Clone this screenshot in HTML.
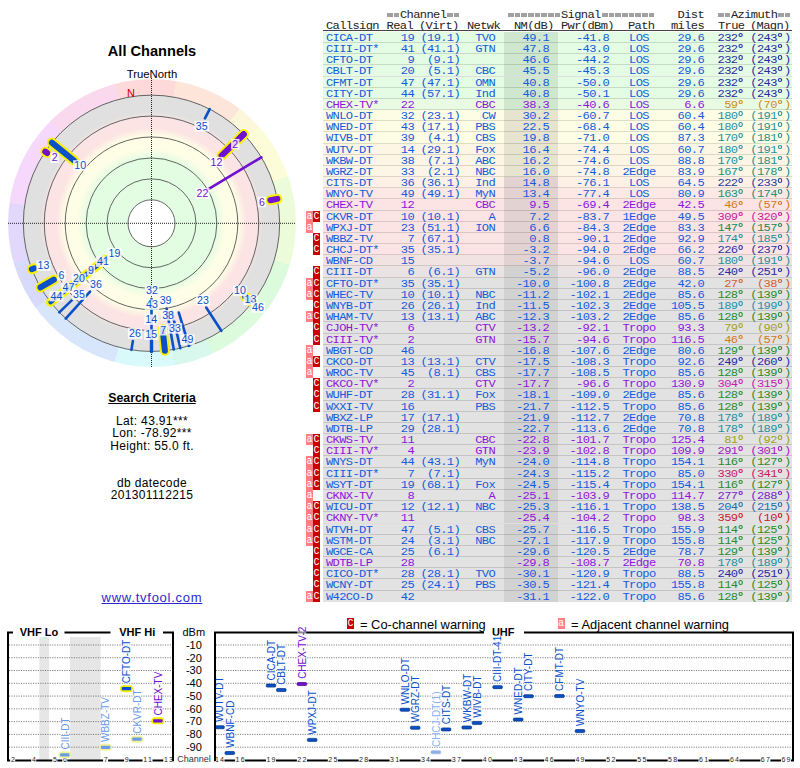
<!DOCTYPE html>
<html><head><meta charset="utf-8"><style>
html,body{margin:0;padding:0;background:#fff}
body{width:800px;height:768px;position:relative;overflow:hidden}
.t{position:absolute;white-space:pre;font:11px/12px "Liberation Mono",monospace;letter-spacing:-0.582px;transform:scaleX(1.100)}
.s{position:absolute;white-space:pre;font-family:"Liberation Sans",sans-serif;color:#000}
.bg{position:absolute;left:323px;width:469px}
.sep{position:absolute;left:323px;width:469px;height:1px;background:rgba(0,0,0,0.13)}
.dg{display:inline-block;width:6.6px;height:1px;position:relative}
.dg::after{content:'';position:absolute;left:0.6px;top:-6.9px;width:2.6px;height:2.4px;border:0.95px solid currentColor;border-radius:50%}
.fl{position:absolute;width:7px;color:#fff;font:10px/11px "Liberation Mono",monospace;text-align:center}
.fc{background:#c80000}
.fa{background:#ff8080}
.pt{font:bold 11px 'Liberation Sans',sans-serif}
.ax{font:11px 'Liberation Sans',sans-serif}
.cl{font:7px 'Liberation Sans',sans-serif;letter-spacing:1.3px;fill:#222}
.ch{font:9px 'Liberation Sans',sans-serif;fill:#333}
.ml{font:10px 'Liberation Sans',sans-serif}
.lab{font:10.6px "Liberation Sans",sans-serif}
</style></head><body>
<div style="position:absolute;left:7.5px;top:79.3px;width:288px;height:288px;border-radius:50%;background:conic-gradient(#fdd9d9 0deg 9.5deg,#fde5da 9.5deg 37.5deg,#fcf6da 37.5deg 48deg,#fdfcd8 48deg 71deg,#ecfcda 71deg 107deg,#dcfadc 107deg 155deg,#d8f8ee 155deg 171deg,#d8fafa 171deg 195deg,#d8e6fc 195deg 234deg,#d8dafc 234deg 254deg,#e2d8fc 254deg 278deg,#f6d8fc 278deg 315deg,#fad8ee 315deg 345deg,#fdd9d9 345deg 360deg)"></div>
<div style="position:absolute;left:23.3px;top:95.1px;width:256.4px;height:256.4px;border-radius:50%;background:radial-gradient(circle closest-side, #fff 0px, #fff 23.5px, #e2fde2 23.5px, #e2fde2 65px, #fefde6 74px, #fefde6 87px, #fde4e4 95px, #fde4e4 105px, #e0e0e0 111px, #e0e0e0 128.2px, transparent 128.2px)"></div>
<svg style="position:absolute;left:0;top:0" width="300" height="380" viewBox="0 0 300 380">
<circle cx="151.50" cy="223.30" r="23.50" fill="none" stroke="#555" stroke-width="0.9"/>
<circle cx="151.50" cy="223.30" r="44.43" fill="none" stroke="#555" stroke-width="0.9"/>
<circle cx="151.50" cy="223.30" r="65.36" fill="none" stroke="#555" stroke-width="0.9"/>
<circle cx="151.50" cy="223.30" r="86.29" fill="none" stroke="#555" stroke-width="0.9"/>
<circle cx="151.50" cy="223.30" r="107.22" fill="none" stroke="#555" stroke-width="0.9"/>
<circle cx="151.50" cy="223.30" r="128.15" fill="none" stroke="#555" stroke-width="0.9"/>
<line x1="8" y1="223.3" x2="296" y2="223.3" stroke="#222" stroke-width="1" stroke-dasharray="1 1"/>
<line x1="151.5" y1="78" x2="151.5" y2="367" stroke="#222" stroke-width="1" stroke-dasharray="1 1"/>
<line x1="221.56" y1="155.64" x2="243.72" y2="134.24" stroke="#f8f000" stroke-width="10" stroke-linecap="round"/>
<line x1="73.95" y1="160.50" x2="51.87" y2="142.62" stroke="#f8f000" stroke-width="10" stroke-linecap="round"/>
<line x1="162.63" y1="329.18" x2="164.90" y2="350.80" stroke="#f8f000" stroke-width="10" stroke-linecap="round"/>
<line x1="53.88" y1="279.66" x2="40.48" y2="287.40" stroke="#f8f000" stroke-width="10" stroke-linecap="round"/>
<line x1="245.25" y1="296.55" x2="252.52" y2="302.23" stroke="#f8f000" stroke-width="10" stroke-linecap="round"/>
<line x1="270.34" y1="200.20" x2="277.34" y2="198.84" stroke="#f8f000" stroke-width="10" stroke-linecap="round"/>
<line x1="240.46" y1="137.39" x2="243.72" y2="134.24" stroke="#f8f000" stroke-width="10" stroke-linecap="round"/>
<line x1="34.29" y1="268.29" x2="31.81" y2="269.24" stroke="#f8f000" stroke-width="10" stroke-linecap="round"/>
<line x1="47.25" y1="152.98" x2="45.22" y2="151.61" stroke="#f8f000" stroke-width="10" stroke-linecap="round"/>
<line x1="105.23" y1="259.45" x2="50.48" y2="302.23" stroke="#f8f000" stroke-width="9" stroke-linecap="round"/>
<line x1="107.28" y1="257.85" x2="50.48" y2="302.23" stroke="#0a50c8" stroke-width="4.2" stroke-linecap="round"/>
<line x1="209.25" y1="188.60" x2="261.39" y2="157.27" stroke="#7010d0" stroke-width="2.6" stroke-linecap="round"/>
<line x1="151.50" y1="299.12" x2="151.50" y2="351.50" stroke="#0a50c8" stroke-width="2.6" stroke-linecap="round"/>
<line x1="151.50" y1="334.46" x2="151.50" y2="351.50" stroke="#0a50c8" stroke-width="3.4" stroke-linecap="round"/>
<line x1="166.55" y1="308.64" x2="173.76" y2="349.55" stroke="#0a50c8" stroke-width="2.6" stroke-linecap="round"/>
<line x1="171.89" y1="311.60" x2="180.34" y2="348.21" stroke="#0a50c8" stroke-width="2.6" stroke-linecap="round"/>
<line x1="90.03" y1="291.57" x2="65.72" y2="318.57" stroke="#0a50c8" stroke-width="2.6" stroke-linecap="round"/>
<line x1="178.79" y1="312.55" x2="188.98" y2="345.90" stroke="#0a50c8" stroke-width="2.6" stroke-linecap="round"/>
<line x1="206.19" y1="307.52" x2="221.32" y2="330.82" stroke="#0a50c8" stroke-width="2.6" stroke-linecap="round"/>
<line x1="71.92" y1="300.15" x2="59.28" y2="312.36" stroke="#0a50c8" stroke-width="2.6" stroke-linecap="round"/>
<line x1="204.95" y1="118.41" x2="209.70" y2="109.07" stroke="#0a50c8" stroke-width="2.6" stroke-linecap="round"/>
<line x1="132.84" y1="341.12" x2="131.45" y2="349.92" stroke="#0a50c8" stroke-width="2.6" stroke-linecap="round"/>
<line x1="248.50" y1="301.85" x2="251.13" y2="303.98" stroke="#0a50c8" stroke-width="2.6" stroke-linecap="round"/>
<line x1="250.59" y1="300.72" x2="252.52" y2="302.23" stroke="#0a50c8" stroke-width="2.6" stroke-linecap="round"/>
<line x1="221.56" y1="155.64" x2="243.72" y2="134.24" stroke="#7010d0" stroke-width="6" stroke-linecap="round"/>
<line x1="73.95" y1="160.50" x2="51.87" y2="142.62" stroke="#0a50c8" stroke-width="6" stroke-linecap="round"/>
<line x1="162.63" y1="329.18" x2="164.90" y2="350.80" stroke="#0a50c8" stroke-width="6" stroke-linecap="round"/>
<line x1="53.88" y1="279.66" x2="40.48" y2="287.40" stroke="#0a50c8" stroke-width="6" stroke-linecap="round"/>
<line x1="245.25" y1="296.55" x2="252.52" y2="302.23" stroke="#0a50c8" stroke-width="6" stroke-linecap="round"/>
<line x1="270.34" y1="200.20" x2="277.34" y2="198.84" stroke="#7010d0" stroke-width="6" stroke-linecap="round"/>
<line x1="240.46" y1="137.39" x2="243.72" y2="134.24" stroke="#7010d0" stroke-width="6" stroke-linecap="round"/>
<line x1="34.29" y1="268.29" x2="31.81" y2="269.24" stroke="#0a50c8" stroke-width="6" stroke-linecap="round"/>
<line x1="47.25" y1="152.98" x2="45.22" y2="151.61" stroke="#7010d0" stroke-width="6" stroke-linecap="round"/>
<rect x="194.55" y="120.90" width="14.30" height="10.5" fill="#fff" fill-opacity="0.82"/>
<text x="201.70" y="129.70" text-anchor="middle" class="lab" fill="#0a50c8">35</text>
<rect x="231.10" y="138.90" width="8.40" height="10.5" fill="#fff" fill-opacity="0.82"/>
<text x="235.30" y="147.70" text-anchor="middle" class="lab" fill="#7010d0">2</text>
<rect x="209.35" y="156.90" width="14.30" height="10.5" fill="#fff" fill-opacity="0.82"/>
<text x="216.50" y="165.70" text-anchor="middle" class="lab" fill="#7010d0">12</text>
<rect x="195.35" y="188.15" width="14.30" height="10.5" fill="#fff" fill-opacity="0.82"/>
<text x="202.50" y="196.95" text-anchor="middle" class="lab" fill="#7010d0">22</text>
<rect x="257.70" y="196.70" width="8.40" height="10.5" fill="#fff" fill-opacity="0.82"/>
<text x="261.90" y="205.50" text-anchor="middle" class="lab" fill="#7010d0">6</text>
<rect x="50.40" y="152.50" width="8.40" height="10.5" fill="#fff" fill-opacity="0.82"/>
<text x="54.60" y="161.30" text-anchor="middle" class="lab" fill="#7010d0">2</text>
<rect x="73.05" y="160.20" width="14.30" height="10.5" fill="#fff" fill-opacity="0.82"/>
<text x="80.20" y="169.00" text-anchor="middle" class="lab" fill="#0a50c8">10</text>
<rect x="36.35" y="260.40" width="14.30" height="10.5" fill="#fff" fill-opacity="0.82"/>
<text x="43.50" y="269.20" text-anchor="middle" class="lab" fill="#0a50c8">13</text>
<rect x="57.30" y="269.90" width="8.40" height="10.5" fill="#fff" fill-opacity="0.82"/>
<text x="61.50" y="278.70" text-anchor="middle" class="lab" fill="#0a50c8">6</text>
<rect x="107.35" y="247.90" width="14.30" height="10.5" fill="#fff" fill-opacity="0.82"/>
<text x="114.50" y="256.70" text-anchor="middle" class="lab" fill="#0a50c8">19</text>
<rect x="95.85" y="256.40" width="14.30" height="10.5" fill="#fff" fill-opacity="0.82"/>
<text x="103.00" y="265.20" text-anchor="middle" class="lab" fill="#0a50c8">41</text>
<rect x="86.80" y="264.90" width="8.40" height="10.5" fill="#fff" fill-opacity="0.82"/>
<text x="91.00" y="273.70" text-anchor="middle" class="lab" fill="#0a50c8">9</text>
<rect x="71.85" y="273.40" width="14.30" height="10.5" fill="#fff" fill-opacity="0.82"/>
<text x="79.00" y="282.20" text-anchor="middle" class="lab" fill="#0a50c8">20</text>
<rect x="61.35" y="282.40" width="14.30" height="10.5" fill="#fff" fill-opacity="0.82"/>
<text x="68.50" y="291.20" text-anchor="middle" class="lab" fill="#0a50c8">47</text>
<rect x="49.35" y="290.90" width="14.30" height="10.5" fill="#fff" fill-opacity="0.82"/>
<text x="56.50" y="299.70" text-anchor="middle" class="lab" fill="#0a50c8">44</text>
<rect x="88.85" y="279.40" width="14.30" height="10.5" fill="#fff" fill-opacity="0.82"/>
<text x="96.00" y="288.20" text-anchor="middle" class="lab" fill="#0a50c8">36</text>
<rect x="71.85" y="289.40" width="14.30" height="10.5" fill="#fff" fill-opacity="0.82"/>
<text x="79.00" y="298.20" text-anchor="middle" class="lab" fill="#0a50c8">35</text>
<rect x="144.75" y="285.65" width="14.30" height="10.5" fill="#fff" fill-opacity="0.82"/>
<text x="151.90" y="294.45" text-anchor="middle" class="lab" fill="#0a50c8">32</text>
<rect x="144.75" y="299.40" width="14.30" height="10.5" fill="#fff" fill-opacity="0.82"/>
<text x="151.90" y="308.20" text-anchor="middle" class="lab" fill="#0a50c8">43</text>
<rect x="144.10" y="314.40" width="14.30" height="10.5" fill="#fff" fill-opacity="0.82"/>
<text x="151.25" y="323.20" text-anchor="middle" class="lab" fill="#0a50c8">14</text>
<rect x="144.10" y="329.40" width="14.30" height="10.5" fill="#fff" fill-opacity="0.82"/>
<text x="151.25" y="338.20" text-anchor="middle" class="lab" fill="#0a50c8">15</text>
<rect x="127.85" y="328.15" width="14.30" height="10.5" fill="#fff" fill-opacity="0.82"/>
<text x="135.00" y="336.95" text-anchor="middle" class="lab" fill="#0a50c8">26</text>
<rect x="158.45" y="295.65" width="14.30" height="10.5" fill="#fff" fill-opacity="0.82"/>
<text x="165.60" y="304.45" text-anchor="middle" class="lab" fill="#0a50c8">39</text>
<rect x="160.95" y="310.00" width="14.30" height="10.5" fill="#fff" fill-opacity="0.82"/>
<text x="168.10" y="318.80" text-anchor="middle" class="lab" fill="#0a50c8">38</text>
<rect x="158.90" y="325.00" width="8.40" height="10.5" fill="#fff" fill-opacity="0.82"/>
<text x="163.10" y="333.80" text-anchor="middle" class="lab" fill="#0a50c8">7</text>
<rect x="167.85" y="323.15" width="14.30" height="10.5" fill="#fff" fill-opacity="0.82"/>
<text x="175.00" y="331.95" text-anchor="middle" class="lab" fill="#0a50c8">33</text>
<rect x="180.35" y="334.40" width="14.30" height="10.5" fill="#fff" fill-opacity="0.82"/>
<text x="187.50" y="343.20" text-anchor="middle" class="lab" fill="#0a50c8">49</text>
<rect x="195.85" y="295.00" width="14.30" height="10.5" fill="#fff" fill-opacity="0.82"/>
<text x="203.00" y="303.80" text-anchor="middle" class="lab" fill="#0a50c8">23</text>
<rect x="232.85" y="285.65" width="14.30" height="10.5" fill="#fff" fill-opacity="0.82"/>
<text x="240.00" y="294.45" text-anchor="middle" class="lab" fill="#0a50c8">10</text>
<rect x="243.35" y="294.65" width="14.30" height="10.5" fill="#fff" fill-opacity="0.82"/>
<text x="250.50" y="303.45" text-anchor="middle" class="lab" fill="#0a50c8">13</text>
<rect x="250.85" y="302.15" width="14.30" height="10.5" fill="#fff" fill-opacity="0.82"/>
<text x="258.00" y="310.95" text-anchor="middle" class="lab" fill="#0a50c8">46</text>
<text x="131" y="96.5" text-anchor="middle" style="font:11px 'Liberation Sans',sans-serif" fill="#cc0000">N</text>
</svg>
<div class="s" style="left:0;width:304px;top:42.5px;text-align:center;font-weight:bold;font-size:14.6px">All Channels</div>
<div class="s" style="left:0;width:304px;top:68px;text-align:center;font-size:11.3px">TrueNorth</div>
<div class="s" style="left:0;width:304px;top:390.5px;text-align:center;font-weight:bold;font-size:12.3px;text-decoration:underline">Search Criteria</div>
<div class="s" style="left:0;width:304px;top:414.5px;text-align:center;font-size:12px;line-height:12.6px;letter-spacing:0.35px">Lat: 43.91***<br>Lon: -78.92***<br>Height: 55.0 ft.</div>
<div class="s" style="left:0;width:304px;top:476.5px;text-align:center;font-size:12px;line-height:12.4px;letter-spacing:0.35px">db datecode<br>201301112215</div>
<div class="s" style="left:0;width:304px;top:590px;text-align:center;font-size:13px;letter-spacing:0.75px;color:#2a2acc;text-decoration:underline">www.tvfool.com</div>
<div style="position:absolute;left:386.90px;top:13px;width:12.32px;height:3.8px;background:repeating-linear-gradient(90deg,#a0a0a0 0 5.6px,transparent 5.6px 6.66px)"></div>
<div class="t" style="left:399.52px;transform-origin:0 0;top:8.60px;color:#222">Channel</div>
<div style="position:absolute;left:446.84px;top:13px;width:12.32px;height:3.8px;background:repeating-linear-gradient(90deg,#a0a0a0 0 5.6px,transparent 5.6px 6.66px)"></div>
<div style="position:absolute;left:508.40px;top:13px;width:52.28px;height:3.8px;background:repeating-linear-gradient(90deg,#a0a0a0 0 5.6px,transparent 5.6px 6.66px)"></div>
<div class="t" style="left:561.18px;transform-origin:0 0;top:8.60px;color:#222">Signal</div>
<div style="position:absolute;left:601.64px;top:13px;width:52.28px;height:3.8px;background:repeating-linear-gradient(90deg,#a0a0a0 0 5.6px,transparent 5.6px 6.66px)"></div>
<div class="t" style="right:96.12px;transform-origin:100% 0;top:8.60px;color:#222">Dist</div>
<div style="position:absolute;left:717.80px;top:13px;width:12.32px;height:3.8px;background:repeating-linear-gradient(90deg,#a0a0a0 0 5.6px,transparent 5.6px 6.66px)"></div>
<div class="t" style="left:730.62px;transform-origin:0 0;top:8.60px;color:#222">Azimuth</div>
<div style="position:absolute;left:777.74px;top:13px;width:12.32px;height:3.8px;background:repeating-linear-gradient(90deg,#a0a0a0 0 5.6px,transparent 5.6px 6.66px)"></div>
<div class="t" style="left:325.80px;transform-origin:0 0;top:19.60px;color:#222">Callsign</div>
<div class="t" style="right:386.62px;transform-origin:100% 0;top:19.60px;color:#222">Real</div>
<div class="t" style="left:419.00px;transform-origin:0 0;top:19.60px;color:#222">(Virt)</div>
<div class="t" style="left:467.30px;transform-origin:0 0;top:19.60px;color:#222">Netwk</div>
<div class="t" style="left:514.20px;transform-origin:0 0;top:19.60px;color:#222">NM(dB)</div>
<div class="t" style="left:561.20px;transform-origin:0 0;top:19.60px;color:#222">Pwr(dBm)</div>
<div class="t" style="left:628.20px;transform-origin:0 0;top:19.60px;color:#222">Path</div>
<div class="t" style="right:96.12px;transform-origin:100% 0;top:19.60px;color:#222">miles</div>
<div class="t" style="left:717.80px;transform-origin:0 0;top:19.60px;color:#222">True</div>
<div class="t" style="left:749.50px;transform-origin:0 0;top:19.60px;color:#222">(Magn)</div>
<div style="position:absolute;left:323px;top:30px;width:469px;height:1px;background:#444"></div>
<div class="bg" style="top:31.80px;height:11.18px;background:#e3fce3"></div>
<div class="bg" style="left:504px;width:54px;top:31.80px;height:11.18px;background:#cfe6cf"></div>
<div class="sep" style="top:41.98px"></div>
<div class="t" style="left:325.80px;transform-origin:0 0;top:31.80px;color:#145adc">CICA-DT</div>
<div class="t" style="right:385.92px;transform-origin:100% 0;top:31.80px;color:#145adc">19</div>
<div class="t" style="right:339.42px;transform-origin:100% 0;top:31.80px;color:#145adc">(19.1)</div>
<div class="t" style="right:305.22px;transform-origin:100% 0;top:31.80px;color:#145adc">TVO</div>
<div class="t" style="right:250.92px;transform-origin:100% 0;top:31.80px;color:#145adc">49.1</div>
<div class="t" style="right:190.72px;transform-origin:100% 0;top:31.80px;color:#145adc">-41.8</div>
<div class="t" style="left:639.21px;width:0;text-align:center;display:flex;justify-content:center;transform-origin:0 0;top:31.80px;color:#145adc">LOS</div>
<div class="t" style="right:96.32px;transform-origin:100% 0;top:31.80px;color:#145adc">29.6</div>
<div class="t" style="right:55.42px;transform-origin:100% 0;top:31.80px;color:#2a2aa0">232<span class="dg"></span></div>
<div class="t" style="right:9.12px;transform-origin:100% 0;top:31.80px;color:#2a2aa0">(243<span class="dg"></span>)</div>
<div class="bg" style="top:42.98px;height:11.18px;background:#e3fce3"></div>
<div class="bg" style="left:504px;width:54px;top:42.98px;height:11.18px;background:#cfe6cf"></div>
<div class="sep" style="top:53.15px"></div>
<div class="t" style="left:325.80px;transform-origin:0 0;top:42.97px;color:#145adc">CIII-DT*</div>
<div class="t" style="right:385.92px;transform-origin:100% 0;top:42.97px;color:#145adc">41</div>
<div class="t" style="right:339.42px;transform-origin:100% 0;top:42.97px;color:#145adc">(41.1)</div>
<div class="t" style="right:305.22px;transform-origin:100% 0;top:42.97px;color:#145adc">GTN</div>
<div class="t" style="right:250.92px;transform-origin:100% 0;top:42.97px;color:#145adc">47.8</div>
<div class="t" style="right:190.72px;transform-origin:100% 0;top:42.97px;color:#145adc">-43.0</div>
<div class="t" style="left:639.21px;width:0;text-align:center;display:flex;justify-content:center;transform-origin:0 0;top:42.97px;color:#145adc">LOS</div>
<div class="t" style="right:96.32px;transform-origin:100% 0;top:42.97px;color:#145adc">29.6</div>
<div class="t" style="right:55.42px;transform-origin:100% 0;top:42.97px;color:#2a2aa0">232<span class="dg"></span></div>
<div class="t" style="right:9.12px;transform-origin:100% 0;top:42.97px;color:#2a2aa0">(243<span class="dg"></span>)</div>
<div class="bg" style="top:54.15px;height:11.17px;background:#e3fce3"></div>
<div class="bg" style="left:504px;width:54px;top:54.15px;height:11.17px;background:#cfe6cf"></div>
<div class="sep" style="top:64.33px"></div>
<div class="t" style="left:325.80px;transform-origin:0 0;top:54.15px;color:#145adc">CFTO-DT</div>
<div class="t" style="right:385.92px;transform-origin:100% 0;top:54.15px;color:#145adc">9</div>
<div class="t" style="right:339.42px;transform-origin:100% 0;top:54.15px;color:#145adc">(9.1)</div>
<div class="t" style="right:250.92px;transform-origin:100% 0;top:54.15px;color:#145adc">46.6</div>
<div class="t" style="right:190.72px;transform-origin:100% 0;top:54.15px;color:#145adc">-44.2</div>
<div class="t" style="left:639.21px;width:0;text-align:center;display:flex;justify-content:center;transform-origin:0 0;top:54.15px;color:#145adc">LOS</div>
<div class="t" style="right:96.32px;transform-origin:100% 0;top:54.15px;color:#145adc">29.6</div>
<div class="t" style="right:55.42px;transform-origin:100% 0;top:54.15px;color:#2a2aa0">232<span class="dg"></span></div>
<div class="t" style="right:9.12px;transform-origin:100% 0;top:54.15px;color:#2a2aa0">(243<span class="dg"></span>)</div>
<div class="bg" style="top:65.33px;height:11.17px;background:#e3fce3"></div>
<div class="bg" style="left:504px;width:54px;top:65.33px;height:11.17px;background:#cfe6cf"></div>
<div class="sep" style="top:75.50px"></div>
<div class="t" style="left:325.80px;transform-origin:0 0;top:65.33px;color:#145adc">CBLT-DT</div>
<div class="t" style="right:385.92px;transform-origin:100% 0;top:65.33px;color:#145adc">20</div>
<div class="t" style="right:339.42px;transform-origin:100% 0;top:65.33px;color:#145adc">(5.1)</div>
<div class="t" style="right:305.22px;transform-origin:100% 0;top:65.33px;color:#145adc">CBC</div>
<div class="t" style="right:250.92px;transform-origin:100% 0;top:65.33px;color:#145adc">45.5</div>
<div class="t" style="right:190.72px;transform-origin:100% 0;top:65.33px;color:#145adc">-45.3</div>
<div class="t" style="left:639.21px;width:0;text-align:center;display:flex;justify-content:center;transform-origin:0 0;top:65.33px;color:#145adc">LOS</div>
<div class="t" style="right:96.32px;transform-origin:100% 0;top:65.33px;color:#145adc">29.6</div>
<div class="t" style="right:55.42px;transform-origin:100% 0;top:65.33px;color:#2a2aa0">232<span class="dg"></span></div>
<div class="t" style="right:9.12px;transform-origin:100% 0;top:65.33px;color:#2a2aa0">(243<span class="dg"></span>)</div>
<div class="bg" style="top:76.50px;height:11.17px;background:#e3fce3"></div>
<div class="bg" style="left:504px;width:54px;top:76.50px;height:11.17px;background:#cfe6cf"></div>
<div class="sep" style="top:86.67px"></div>
<div class="t" style="left:325.80px;transform-origin:0 0;top:76.50px;color:#145adc">CFMT-DT</div>
<div class="t" style="right:385.92px;transform-origin:100% 0;top:76.50px;color:#145adc">47</div>
<div class="t" style="right:339.42px;transform-origin:100% 0;top:76.50px;color:#145adc">(47.1)</div>
<div class="t" style="right:305.22px;transform-origin:100% 0;top:76.50px;color:#145adc">OMN</div>
<div class="t" style="right:250.92px;transform-origin:100% 0;top:76.50px;color:#145adc">40.8</div>
<div class="t" style="right:190.72px;transform-origin:100% 0;top:76.50px;color:#145adc">-50.0</div>
<div class="t" style="left:639.21px;width:0;text-align:center;display:flex;justify-content:center;transform-origin:0 0;top:76.50px;color:#145adc">LOS</div>
<div class="t" style="right:96.32px;transform-origin:100% 0;top:76.50px;color:#145adc">29.6</div>
<div class="t" style="right:55.42px;transform-origin:100% 0;top:76.50px;color:#2a2aa0">232<span class="dg"></span></div>
<div class="t" style="right:9.12px;transform-origin:100% 0;top:76.50px;color:#2a2aa0">(243<span class="dg"></span>)</div>
<div class="bg" style="top:87.67px;height:11.18px;background:#e3fce3"></div>
<div class="bg" style="left:504px;width:54px;top:87.67px;height:11.18px;background:#cfe6cf"></div>
<div class="sep" style="top:97.85px"></div>
<div class="t" style="left:325.80px;transform-origin:0 0;top:87.67px;color:#145adc">CITY-DT</div>
<div class="t" style="right:385.92px;transform-origin:100% 0;top:87.67px;color:#145adc">44</div>
<div class="t" style="right:339.42px;transform-origin:100% 0;top:87.67px;color:#145adc">(57.1)</div>
<div class="t" style="right:305.22px;transform-origin:100% 0;top:87.67px;color:#145adc">Ind</div>
<div class="t" style="right:250.92px;transform-origin:100% 0;top:87.67px;color:#145adc">40.8</div>
<div class="t" style="right:190.72px;transform-origin:100% 0;top:87.67px;color:#145adc">-50.1</div>
<div class="t" style="left:639.21px;width:0;text-align:center;display:flex;justify-content:center;transform-origin:0 0;top:87.67px;color:#145adc">LOS</div>
<div class="t" style="right:96.32px;transform-origin:100% 0;top:87.67px;color:#145adc">29.6</div>
<div class="t" style="right:55.42px;transform-origin:100% 0;top:87.67px;color:#2a2aa0">232<span class="dg"></span></div>
<div class="t" style="right:9.12px;transform-origin:100% 0;top:87.67px;color:#2a2aa0">(243<span class="dg"></span>)</div>
<div class="bg" style="top:98.85px;height:11.17px;background:#e9fce3"></div>
<div class="bg" style="left:504px;width:54px;top:98.85px;height:11.17px;background:#cfe6cf"></div>
<div class="sep" style="top:109.03px"></div>
<div class="t" style="left:325.80px;transform-origin:0 0;top:98.85px;color:#8c14dc">CHEX-TV*</div>
<div class="t" style="right:385.92px;transform-origin:100% 0;top:98.85px;color:#8c14dc">22</div>
<div class="t" style="right:305.22px;transform-origin:100% 0;top:98.85px;color:#8c14dc">CBC</div>
<div class="t" style="right:250.92px;transform-origin:100% 0;top:98.85px;color:#8c14dc">38.3</div>
<div class="t" style="right:190.72px;transform-origin:100% 0;top:98.85px;color:#8c14dc">-40.6</div>
<div class="t" style="left:639.21px;width:0;text-align:center;display:flex;justify-content:center;transform-origin:0 0;top:98.85px;color:#8c14dc">LOS</div>
<div class="t" style="right:96.32px;transform-origin:100% 0;top:98.85px;color:#8c14dc">6.6</div>
<div class="t" style="right:55.42px;transform-origin:100% 0;top:98.85px;color:#d08a1a">59<span class="dg"></span></div>
<div class="t" style="right:9.12px;transform-origin:100% 0;top:98.85px;color:#d08a1a">(70<span class="dg"></span>)</div>
<div class="bg" style="top:110.03px;height:11.17px;background:#fdfde5"></div>
<div class="bg" style="left:504px;width:54px;top:110.03px;height:11.17px;background:#e6e3cf"></div>
<div class="sep" style="top:120.20px"></div>
<div class="t" style="left:325.80px;transform-origin:0 0;top:110.03px;color:#145adc">WNLO-DT</div>
<div class="t" style="right:385.92px;transform-origin:100% 0;top:110.03px;color:#145adc">32</div>
<div class="t" style="right:339.42px;transform-origin:100% 0;top:110.03px;color:#145adc">(23.1)</div>
<div class="t" style="right:305.22px;transform-origin:100% 0;top:110.03px;color:#145adc">CW</div>
<div class="t" style="right:250.92px;transform-origin:100% 0;top:110.03px;color:#145adc">30.2</div>
<div class="t" style="right:190.72px;transform-origin:100% 0;top:110.03px;color:#145adc">-60.7</div>
<div class="t" style="left:639.21px;width:0;text-align:center;display:flex;justify-content:center;transform-origin:0 0;top:110.03px;color:#145adc">LOS</div>
<div class="t" style="right:96.32px;transform-origin:100% 0;top:110.03px;color:#145adc">60.4</div>
<div class="t" style="right:55.42px;transform-origin:100% 0;top:110.03px;color:#1f8fa0">180<span class="dg"></span></div>
<div class="t" style="right:9.12px;transform-origin:100% 0;top:110.03px;color:#1f8fa0">(191<span class="dg"></span>)</div>
<div class="bg" style="top:121.20px;height:11.17px;background:#fdfde5"></div>
<div class="bg" style="left:504px;width:54px;top:121.20px;height:11.17px;background:#e6e3cf"></div>
<div class="sep" style="top:131.38px"></div>
<div class="t" style="left:325.80px;transform-origin:0 0;top:121.20px;color:#145adc">WNED-DT</div>
<div class="t" style="right:385.92px;transform-origin:100% 0;top:121.20px;color:#145adc">43</div>
<div class="t" style="right:339.42px;transform-origin:100% 0;top:121.20px;color:#145adc">(17.1)</div>
<div class="t" style="right:305.22px;transform-origin:100% 0;top:121.20px;color:#145adc">PBS</div>
<div class="t" style="right:250.92px;transform-origin:100% 0;top:121.20px;color:#145adc">22.5</div>
<div class="t" style="right:190.72px;transform-origin:100% 0;top:121.20px;color:#145adc">-68.4</div>
<div class="t" style="left:639.21px;width:0;text-align:center;display:flex;justify-content:center;transform-origin:0 0;top:121.20px;color:#145adc">LOS</div>
<div class="t" style="right:96.32px;transform-origin:100% 0;top:121.20px;color:#145adc">60.4</div>
<div class="t" style="right:55.42px;transform-origin:100% 0;top:121.20px;color:#1f8fa0">180<span class="dg"></span></div>
<div class="t" style="right:9.12px;transform-origin:100% 0;top:121.20px;color:#1f8fa0">(191<span class="dg"></span>)</div>
<div class="bg" style="top:132.38px;height:11.18px;background:#fdfde5"></div>
<div class="bg" style="left:504px;width:54px;top:132.38px;height:11.18px;background:#e6e3cf"></div>
<div class="sep" style="top:142.55px"></div>
<div class="t" style="left:325.80px;transform-origin:0 0;top:132.38px;color:#145adc">WIVB-DT</div>
<div class="t" style="right:385.92px;transform-origin:100% 0;top:132.38px;color:#145adc">39</div>
<div class="t" style="right:339.42px;transform-origin:100% 0;top:132.38px;color:#145adc">(4.1)</div>
<div class="t" style="right:305.22px;transform-origin:100% 0;top:132.38px;color:#145adc">CBS</div>
<div class="t" style="right:250.92px;transform-origin:100% 0;top:132.38px;color:#145adc">19.8</div>
<div class="t" style="right:190.72px;transform-origin:100% 0;top:132.38px;color:#145adc">-71.0</div>
<div class="t" style="left:639.21px;width:0;text-align:center;display:flex;justify-content:center;transform-origin:0 0;top:132.38px;color:#145adc">LOS</div>
<div class="t" style="right:96.32px;transform-origin:100% 0;top:132.38px;color:#145adc">87.3</div>
<div class="t" style="right:55.42px;transform-origin:100% 0;top:132.38px;color:#1f8f90">170<span class="dg"></span></div>
<div class="t" style="right:9.12px;transform-origin:100% 0;top:132.38px;color:#1f8f90">(181<span class="dg"></span>)</div>
<div class="bg" style="top:143.55px;height:11.18px;background:#fdf6e5"></div>
<div class="bg" style="left:504px;width:54px;top:143.55px;height:11.18px;background:#e6e3cf"></div>
<div class="sep" style="top:153.73px"></div>
<div class="t" style="left:325.80px;transform-origin:0 0;top:143.55px;color:#145adc">WUTV-DT</div>
<div class="t" style="right:385.92px;transform-origin:100% 0;top:143.55px;color:#145adc">14</div>
<div class="t" style="right:339.42px;transform-origin:100% 0;top:143.55px;color:#145adc">(29.1)</div>
<div class="t" style="right:305.22px;transform-origin:100% 0;top:143.55px;color:#145adc">Fox</div>
<div class="t" style="right:250.92px;transform-origin:100% 0;top:143.55px;color:#145adc">16.4</div>
<div class="t" style="right:190.72px;transform-origin:100% 0;top:143.55px;color:#145adc">-74.4</div>
<div class="t" style="left:639.21px;width:0;text-align:center;display:flex;justify-content:center;transform-origin:0 0;top:143.55px;color:#145adc">LOS</div>
<div class="t" style="right:96.32px;transform-origin:100% 0;top:143.55px;color:#145adc">60.7</div>
<div class="t" style="right:55.42px;transform-origin:100% 0;top:143.55px;color:#1f8fa0">180<span class="dg"></span></div>
<div class="t" style="right:9.12px;transform-origin:100% 0;top:143.55px;color:#1f8fa0">(191<span class="dg"></span>)</div>
<div class="bg" style="top:154.73px;height:11.18px;background:#fdf5e5"></div>
<div class="bg" style="left:504px;width:54px;top:154.73px;height:11.18px;background:#e6e3cf"></div>
<div class="sep" style="top:164.90px"></div>
<div class="t" style="left:325.80px;transform-origin:0 0;top:154.73px;color:#145adc">WKBW-DT</div>
<div class="t" style="right:385.92px;transform-origin:100% 0;top:154.73px;color:#145adc">38</div>
<div class="t" style="right:339.42px;transform-origin:100% 0;top:154.73px;color:#145adc">(7.1)</div>
<div class="t" style="right:305.22px;transform-origin:100% 0;top:154.73px;color:#145adc">ABC</div>
<div class="t" style="right:250.92px;transform-origin:100% 0;top:154.73px;color:#145adc">16.2</div>
<div class="t" style="right:190.72px;transform-origin:100% 0;top:154.73px;color:#145adc">-74.6</div>
<div class="t" style="left:639.21px;width:0;text-align:center;display:flex;justify-content:center;transform-origin:0 0;top:154.73px;color:#145adc">LOS</div>
<div class="t" style="right:96.32px;transform-origin:100% 0;top:154.73px;color:#145adc">88.8</div>
<div class="t" style="right:55.42px;transform-origin:100% 0;top:154.73px;color:#1f8f90">170<span class="dg"></span></div>
<div class="t" style="right:9.12px;transform-origin:100% 0;top:154.73px;color:#1f8f90">(181<span class="dg"></span>)</div>
<div class="bg" style="top:165.90px;height:11.17px;background:#fdf5e5"></div>
<div class="bg" style="left:504px;width:54px;top:165.90px;height:11.17px;background:#e6e3cf"></div>
<div class="sep" style="top:176.08px"></div>
<div class="t" style="left:325.80px;transform-origin:0 0;top:165.90px;color:#145adc">WGRZ-DT</div>
<div class="t" style="right:385.92px;transform-origin:100% 0;top:165.90px;color:#145adc">33</div>
<div class="t" style="right:339.42px;transform-origin:100% 0;top:165.90px;color:#145adc">(2.1)</div>
<div class="t" style="right:305.22px;transform-origin:100% 0;top:165.90px;color:#145adc">NBC</div>
<div class="t" style="right:250.92px;transform-origin:100% 0;top:165.90px;color:#145adc">16.0</div>
<div class="t" style="right:190.72px;transform-origin:100% 0;top:165.90px;color:#145adc">-74.8</div>
<div class="t" style="left:639.21px;width:0;text-align:center;display:flex;justify-content:center;transform-origin:0 0;top:165.90px;color:#145adc">2Edge</div>
<div class="t" style="right:96.32px;transform-origin:100% 0;top:165.90px;color:#145adc">83.9</div>
<div class="t" style="right:55.42px;transform-origin:100% 0;top:165.90px;color:#1f8f86">167<span class="dg"></span></div>
<div class="t" style="right:9.12px;transform-origin:100% 0;top:165.90px;color:#1f8f86">(178<span class="dg"></span>)</div>
<div class="bg" style="top:177.08px;height:11.18px;background:#fdf1e5"></div>
<div class="bg" style="left:504px;width:54px;top:177.08px;height:11.18px;background:#e2d2d2"></div>
<div class="sep" style="top:187.25px"></div>
<div class="t" style="left:325.80px;transform-origin:0 0;top:177.07px;color:#145adc">CITS-DT</div>
<div class="t" style="right:385.92px;transform-origin:100% 0;top:177.07px;color:#145adc">36</div>
<div class="t" style="right:339.42px;transform-origin:100% 0;top:177.07px;color:#145adc">(36.1)</div>
<div class="t" style="right:305.22px;transform-origin:100% 0;top:177.07px;color:#145adc">Ind</div>
<div class="t" style="right:250.92px;transform-origin:100% 0;top:177.07px;color:#145adc">14.8</div>
<div class="t" style="right:190.72px;transform-origin:100% 0;top:177.07px;color:#145adc">-76.1</div>
<div class="t" style="left:639.21px;width:0;text-align:center;display:flex;justify-content:center;transform-origin:0 0;top:177.07px;color:#145adc">LOS</div>
<div class="t" style="right:96.32px;transform-origin:100% 0;top:177.07px;color:#145adc">64.5</div>
<div class="t" style="right:55.42px;transform-origin:100% 0;top:177.07px;color:#2a3aa0">222<span class="dg"></span></div>
<div class="t" style="right:9.12px;transform-origin:100% 0;top:177.07px;color:#2a3aa0">(233<span class="dg"></span>)</div>
<div class="bg" style="top:188.25px;height:11.17px;background:#fce8e4"></div>
<div class="bg" style="left:504px;width:54px;top:188.25px;height:11.17px;background:#e2d2d2"></div>
<div class="sep" style="top:198.43px"></div>
<div class="t" style="left:325.80px;transform-origin:0 0;top:188.25px;color:#145adc">WNYO-TV</div>
<div class="t" style="right:385.92px;transform-origin:100% 0;top:188.25px;color:#145adc">49</div>
<div class="t" style="right:339.42px;transform-origin:100% 0;top:188.25px;color:#145adc">(49.1)</div>
<div class="t" style="right:305.22px;transform-origin:100% 0;top:188.25px;color:#145adc">MyN</div>
<div class="t" style="right:250.92px;transform-origin:100% 0;top:188.25px;color:#145adc">13.4</div>
<div class="t" style="right:190.72px;transform-origin:100% 0;top:188.25px;color:#145adc">-77.4</div>
<div class="t" style="left:639.21px;width:0;text-align:center;display:flex;justify-content:center;transform-origin:0 0;top:188.25px;color:#145adc">LOS</div>
<div class="t" style="right:96.32px;transform-origin:100% 0;top:188.25px;color:#145adc">80.9</div>
<div class="t" style="right:55.42px;transform-origin:100% 0;top:188.25px;color:#1f8f78">163<span class="dg"></span></div>
<div class="t" style="right:9.12px;transform-origin:100% 0;top:188.25px;color:#1f8f78">(174<span class="dg"></span>)</div>
<div class="bg" style="top:199.43px;height:11.18px;background:#fce4e4"></div>
<div class="bg" style="left:504px;width:54px;top:199.43px;height:11.18px;background:#e2d2d2"></div>
<div class="sep" style="top:209.60px"></div>
<div class="t" style="left:325.80px;transform-origin:0 0;top:199.43px;color:#8c14dc">CHEX-TV</div>
<div class="t" style="right:385.92px;transform-origin:100% 0;top:199.43px;color:#8c14dc">12</div>
<div class="t" style="right:305.22px;transform-origin:100% 0;top:199.43px;color:#8c14dc">CBC</div>
<div class="t" style="right:250.92px;transform-origin:100% 0;top:199.43px;color:#8c14dc">9.5</div>
<div class="t" style="right:190.72px;transform-origin:100% 0;top:199.43px;color:#8c14dc">-69.4</div>
<div class="t" style="left:639.21px;width:0;text-align:center;display:flex;justify-content:center;transform-origin:0 0;top:199.43px;color:#8c14dc">2Edge</div>
<div class="t" style="right:96.32px;transform-origin:100% 0;top:199.43px;color:#8c14dc">42.5</div>
<div class="t" style="right:55.42px;transform-origin:100% 0;top:199.43px;color:#d07a1a">46<span class="dg"></span></div>
<div class="t" style="right:9.12px;transform-origin:100% 0;top:199.43px;color:#d07a1a">(57<span class="dg"></span>)</div>
<div class="bg" style="top:210.60px;height:11.18px;background:#fce4e4"></div>
<div class="bg" style="left:504px;width:54px;top:210.60px;height:11.18px;background:#e2d2d2"></div>
<div class="sep" style="top:220.78px"></div>
<div class="fl fc" style="left:313px;top:210.60px;height:11.18px">C</div>
<div class="fl fa" style="left:306px;top:210.60px;height:11.18px">a</div>
<div class="t" style="left:325.80px;transform-origin:0 0;top:210.60px;color:#145adc">CKVR-DT</div>
<div class="t" style="right:385.92px;transform-origin:100% 0;top:210.60px;color:#145adc">10</div>
<div class="t" style="right:339.42px;transform-origin:100% 0;top:210.60px;color:#145adc">(10.1)</div>
<div class="t" style="right:305.22px;transform-origin:100% 0;top:210.60px;color:#145adc">A</div>
<div class="t" style="right:250.92px;transform-origin:100% 0;top:210.60px;color:#145adc">7.2</div>
<div class="t" style="right:190.72px;transform-origin:100% 0;top:210.60px;color:#145adc">-83.7</div>
<div class="t" style="left:639.21px;width:0;text-align:center;display:flex;justify-content:center;transform-origin:0 0;top:210.60px;color:#145adc">1Edge</div>
<div class="t" style="right:96.32px;transform-origin:100% 0;top:210.60px;color:#145adc">49.5</div>
<div class="t" style="right:55.42px;transform-origin:100% 0;top:210.60px;color:#c81a9a">309<span class="dg"></span></div>
<div class="t" style="right:9.12px;transform-origin:100% 0;top:210.60px;color:#c81a9a">(320<span class="dg"></span>)</div>
<div class="bg" style="top:221.78px;height:11.17px;background:#fce4e4"></div>
<div class="bg" style="left:504px;width:54px;top:221.78px;height:11.17px;background:#e2d2d2"></div>
<div class="sep" style="top:231.95px"></div>
<div class="fl fa" style="left:306px;top:221.78px;height:11.18px">a</div>
<div class="t" style="left:325.80px;transform-origin:0 0;top:221.78px;color:#145adc">WPXJ-DT</div>
<div class="t" style="right:385.92px;transform-origin:100% 0;top:221.78px;color:#145adc">23</div>
<div class="t" style="right:339.42px;transform-origin:100% 0;top:221.78px;color:#145adc">(51.1)</div>
<div class="t" style="right:305.22px;transform-origin:100% 0;top:221.78px;color:#145adc">ION</div>
<div class="t" style="right:250.92px;transform-origin:100% 0;top:221.78px;color:#145adc">6.6</div>
<div class="t" style="right:190.72px;transform-origin:100% 0;top:221.78px;color:#145adc">-84.3</div>
<div class="t" style="left:639.21px;width:0;text-align:center;display:flex;justify-content:center;transform-origin:0 0;top:221.78px;color:#145adc">2Edge</div>
<div class="t" style="right:96.32px;transform-origin:100% 0;top:221.78px;color:#145adc">83.3</div>
<div class="t" style="right:55.42px;transform-origin:100% 0;top:221.78px;color:#1f8a50">147<span class="dg"></span></div>
<div class="t" style="right:9.12px;transform-origin:100% 0;top:221.78px;color:#1f8a50">(157<span class="dg"></span>)</div>
<div class="bg" style="top:232.95px;height:11.18px;background:#fce4e4"></div>
<div class="bg" style="left:504px;width:54px;top:232.95px;height:11.18px;background:#e2d2d2"></div>
<div class="sep" style="top:243.13px"></div>
<div class="fl fc" style="left:313px;top:232.95px;height:11.18px">C</div>
<div class="t" style="left:325.80px;transform-origin:0 0;top:232.95px;color:#145adc">WBBZ-TV</div>
<div class="t" style="right:385.92px;transform-origin:100% 0;top:232.95px;color:#145adc">7</div>
<div class="t" style="right:339.42px;transform-origin:100% 0;top:232.95px;color:#145adc">(67.1)</div>
<div class="t" style="right:250.92px;transform-origin:100% 0;top:232.95px;color:#145adc">0.8</div>
<div class="t" style="right:190.72px;transform-origin:100% 0;top:232.95px;color:#145adc">-90.1</div>
<div class="t" style="left:639.21px;width:0;text-align:center;display:flex;justify-content:center;transform-origin:0 0;top:232.95px;color:#145adc">2Edge</div>
<div class="t" style="right:96.32px;transform-origin:100% 0;top:232.95px;color:#145adc">92.9</div>
<div class="t" style="right:55.42px;transform-origin:100% 0;top:232.95px;color:#1f8f96">174<span class="dg"></span></div>
<div class="t" style="right:9.12px;transform-origin:100% 0;top:232.95px;color:#1f8f96">(185<span class="dg"></span>)</div>
<div class="bg" style="top:244.13px;height:11.17px;background:#fce4e4"></div>
<div class="bg" style="left:504px;width:54px;top:244.13px;height:11.17px;background:#e2d2d2"></div>
<div class="sep" style="top:254.30px"></div>
<div class="fl fc" style="left:313px;top:244.13px;height:11.18px">C</div>
<div class="t" style="left:325.80px;transform-origin:0 0;top:244.12px;color:#145adc">CHCJ-DT*</div>
<div class="t" style="right:385.92px;transform-origin:100% 0;top:244.12px;color:#145adc">35</div>
<div class="t" style="right:339.42px;transform-origin:100% 0;top:244.12px;color:#145adc">(35.1)</div>
<div class="t" style="right:250.92px;transform-origin:100% 0;top:244.12px;color:#145adc">-3.2</div>
<div class="t" style="right:190.72px;transform-origin:100% 0;top:244.12px;color:#145adc">-94.0</div>
<div class="t" style="left:639.21px;width:0;text-align:center;display:flex;justify-content:center;transform-origin:0 0;top:244.12px;color:#145adc">2Edge</div>
<div class="t" style="right:96.32px;transform-origin:100% 0;top:244.12px;color:#145adc">66.2</div>
<div class="t" style="right:55.42px;transform-origin:100% 0;top:244.12px;color:#2a34a0">226<span class="dg"></span></div>
<div class="t" style="right:9.12px;transform-origin:100% 0;top:244.12px;color:#2a34a0">(237<span class="dg"></span>)</div>
<div class="bg" style="top:255.30px;height:11.18px;background:#f2e3e3"></div>
<div class="bg" style="left:504px;width:54px;top:255.30px;height:11.18px;background:#e2d2d2"></div>
<div class="sep" style="top:265.48px"></div>
<div class="t" style="left:325.80px;transform-origin:0 0;top:255.30px;color:#145adc">WBNF-CD</div>
<div class="t" style="right:385.92px;transform-origin:100% 0;top:255.30px;color:#145adc">15</div>
<div class="t" style="right:250.92px;transform-origin:100% 0;top:255.30px;color:#145adc">-3.7</div>
<div class="t" style="right:190.72px;transform-origin:100% 0;top:255.30px;color:#145adc">-94.6</div>
<div class="t" style="left:639.21px;width:0;text-align:center;display:flex;justify-content:center;transform-origin:0 0;top:255.30px;color:#145adc">LOS</div>
<div class="t" style="right:96.32px;transform-origin:100% 0;top:255.30px;color:#145adc">60.7</div>
<div class="t" style="right:55.42px;transform-origin:100% 0;top:255.30px;color:#1f8fa0">180<span class="dg"></span></div>
<div class="t" style="right:9.12px;transform-origin:100% 0;top:255.30px;color:#1f8fa0">(191<span class="dg"></span>)</div>
<div class="bg" style="top:266.48px;height:11.18px;background:#ebe3e3"></div>
<div class="bg" style="left:504px;width:54px;top:266.48px;height:11.18px;background:#d2d2d2"></div>
<div class="sep" style="top:276.65px"></div>
<div class="fl fc" style="left:313px;top:266.48px;height:11.18px">C</div>
<div class="t" style="left:325.80px;transform-origin:0 0;top:266.48px;color:#145adc">CIII-DT</div>
<div class="t" style="right:385.92px;transform-origin:100% 0;top:266.48px;color:#145adc">6</div>
<div class="t" style="right:339.42px;transform-origin:100% 0;top:266.48px;color:#145adc">(6.1)</div>
<div class="t" style="right:305.22px;transform-origin:100% 0;top:266.48px;color:#145adc">GTN</div>
<div class="t" style="right:250.92px;transform-origin:100% 0;top:266.48px;color:#145adc">-5.2</div>
<div class="t" style="right:190.72px;transform-origin:100% 0;top:266.48px;color:#145adc">-96.0</div>
<div class="t" style="left:639.21px;width:0;text-align:center;display:flex;justify-content:center;transform-origin:0 0;top:266.48px;color:#145adc">2Edge</div>
<div class="t" style="right:96.32px;transform-origin:100% 0;top:266.48px;color:#145adc">88.5</div>
<div class="t" style="right:55.42px;transform-origin:100% 0;top:266.48px;color:#2a2aa0">240<span class="dg"></span></div>
<div class="t" style="right:9.12px;transform-origin:100% 0;top:266.48px;color:#2a2aa0">(251<span class="dg"></span>)</div>
<div class="bg" style="top:277.65px;height:11.18px;background:#e2e2e2"></div>
<div class="bg" style="left:504px;width:54px;top:277.65px;height:11.18px;background:#d2d2d2"></div>
<div class="sep" style="top:287.83px"></div>
<div class="fl fc" style="left:313px;top:277.65px;height:11.18px">C</div>
<div class="fl fa" style="left:306px;top:277.65px;height:11.18px">a</div>
<div class="t" style="left:325.80px;transform-origin:0 0;top:277.65px;color:#145adc">CFTO-DT*</div>
<div class="t" style="right:385.92px;transform-origin:100% 0;top:277.65px;color:#145adc">35</div>
<div class="t" style="right:339.42px;transform-origin:100% 0;top:277.65px;color:#145adc">(35.1)</div>
<div class="t" style="right:250.92px;transform-origin:100% 0;top:277.65px;color:#145adc">-10.0</div>
<div class="t" style="right:190.72px;transform-origin:100% 0;top:277.65px;color:#145adc">-100.8</div>
<div class="t" style="left:639.21px;width:0;text-align:center;display:flex;justify-content:center;transform-origin:0 0;top:277.65px;color:#145adc">2Edge</div>
<div class="t" style="right:96.32px;transform-origin:100% 0;top:277.65px;color:#145adc">42.0</div>
<div class="t" style="right:55.42px;transform-origin:100% 0;top:277.65px;color:#d0602a">27<span class="dg"></span></div>
<div class="t" style="right:9.12px;transform-origin:100% 0;top:277.65px;color:#d0602a">(38<span class="dg"></span>)</div>
<div class="bg" style="top:288.83px;height:11.18px;background:#e2e2e2"></div>
<div class="bg" style="left:504px;width:54px;top:288.83px;height:11.18px;background:#d2d2d2"></div>
<div class="sep" style="top:299.00px"></div>
<div class="fl fc" style="left:313px;top:288.83px;height:11.18px">C</div>
<div class="fl fa" style="left:306px;top:288.83px;height:11.18px">a</div>
<div class="t" style="left:325.80px;transform-origin:0 0;top:288.83px;color:#145adc">WHEC-TV</div>
<div class="t" style="right:385.92px;transform-origin:100% 0;top:288.83px;color:#145adc">10</div>
<div class="t" style="right:339.42px;transform-origin:100% 0;top:288.83px;color:#145adc">(10.1)</div>
<div class="t" style="right:305.22px;transform-origin:100% 0;top:288.83px;color:#145adc">NBC</div>
<div class="t" style="right:250.92px;transform-origin:100% 0;top:288.83px;color:#145adc">-11.2</div>
<div class="t" style="right:190.72px;transform-origin:100% 0;top:288.83px;color:#145adc">-102.1</div>
<div class="t" style="left:639.21px;width:0;text-align:center;display:flex;justify-content:center;transform-origin:0 0;top:288.83px;color:#145adc">2Edge</div>
<div class="t" style="right:96.32px;transform-origin:100% 0;top:288.83px;color:#145adc">85.6</div>
<div class="t" style="right:55.42px;transform-origin:100% 0;top:288.83px;color:#2a8a2a">128<span class="dg"></span></div>
<div class="t" style="right:9.12px;transform-origin:100% 0;top:288.83px;color:#2a8a2a">(139<span class="dg"></span>)</div>
<div class="bg" style="top:300.00px;height:11.17px;background:#e2e2e2"></div>
<div class="bg" style="left:504px;width:54px;top:300.00px;height:11.17px;background:#d2d2d2"></div>
<div class="sep" style="top:310.18px"></div>
<div class="fl fc" style="left:313px;top:300.00px;height:11.18px">C</div>
<div class="t" style="left:325.80px;transform-origin:0 0;top:300.00px;color:#145adc">WNYB-DT</div>
<div class="t" style="right:385.92px;transform-origin:100% 0;top:300.00px;color:#145adc">26</div>
<div class="t" style="right:339.42px;transform-origin:100% 0;top:300.00px;color:#145adc">(26.1)</div>
<div class="t" style="right:305.22px;transform-origin:100% 0;top:300.00px;color:#145adc">Ind</div>
<div class="t" style="right:250.92px;transform-origin:100% 0;top:300.00px;color:#145adc">-11.5</div>
<div class="t" style="right:190.72px;transform-origin:100% 0;top:300.00px;color:#145adc">-102.3</div>
<div class="t" style="left:639.21px;width:0;text-align:center;display:flex;justify-content:center;transform-origin:0 0;top:300.00px;color:#145adc">2Edge</div>
<div class="t" style="right:96.32px;transform-origin:100% 0;top:300.00px;color:#145adc">105.5</div>
<div class="t" style="right:55.42px;transform-origin:100% 0;top:300.00px;color:#1f8fb0">189<span class="dg"></span></div>
<div class="t" style="right:9.12px;transform-origin:100% 0;top:300.00px;color:#1f8fb0">(199<span class="dg"></span>)</div>
<div class="bg" style="top:311.18px;height:11.18px;background:#e2e2e2"></div>
<div class="bg" style="left:504px;width:54px;top:311.18px;height:11.18px;background:#d2d2d2"></div>
<div class="sep" style="top:321.35px"></div>
<div class="fl fc" style="left:313px;top:311.18px;height:11.18px">C</div>
<div class="fl fa" style="left:306px;top:311.18px;height:11.18px">a</div>
<div class="t" style="left:325.80px;transform-origin:0 0;top:311.18px;color:#145adc">WHAM-TV</div>
<div class="t" style="right:385.92px;transform-origin:100% 0;top:311.18px;color:#145adc">13</div>
<div class="t" style="right:339.42px;transform-origin:100% 0;top:311.18px;color:#145adc">(13.1)</div>
<div class="t" style="right:305.22px;transform-origin:100% 0;top:311.18px;color:#145adc">ABC</div>
<div class="t" style="right:250.92px;transform-origin:100% 0;top:311.18px;color:#145adc">-12.3</div>
<div class="t" style="right:190.72px;transform-origin:100% 0;top:311.18px;color:#145adc">-103.2</div>
<div class="t" style="left:639.21px;width:0;text-align:center;display:flex;justify-content:center;transform-origin:0 0;top:311.18px;color:#145adc">2Edge</div>
<div class="t" style="right:96.32px;transform-origin:100% 0;top:311.18px;color:#145adc">85.6</div>
<div class="t" style="right:55.42px;transform-origin:100% 0;top:311.18px;color:#2a8a2a">128<span class="dg"></span></div>
<div class="t" style="right:9.12px;transform-origin:100% 0;top:311.18px;color:#2a8a2a">(139<span class="dg"></span>)</div>
<div class="bg" style="top:322.35px;height:11.18px;background:#e2e2e2"></div>
<div class="bg" style="left:504px;width:54px;top:322.35px;height:11.18px;background:#d2d2d2"></div>
<div class="sep" style="top:332.53px"></div>
<div class="fl fc" style="left:313px;top:322.35px;height:11.18px">C</div>
<div class="t" style="left:325.80px;transform-origin:0 0;top:322.35px;color:#8c14dc">CJOH-TV*</div>
<div class="t" style="right:385.92px;transform-origin:100% 0;top:322.35px;color:#8c14dc">6</div>
<div class="t" style="right:305.22px;transform-origin:100% 0;top:322.35px;color:#8c14dc">CTV</div>
<div class="t" style="right:250.92px;transform-origin:100% 0;top:322.35px;color:#8c14dc">-13.2</div>
<div class="t" style="right:190.72px;transform-origin:100% 0;top:322.35px;color:#8c14dc">-92.1</div>
<div class="t" style="left:639.21px;width:0;text-align:center;display:flex;justify-content:center;transform-origin:0 0;top:322.35px;color:#8c14dc">Tropo</div>
<div class="t" style="right:96.32px;transform-origin:100% 0;top:322.35px;color:#8c14dc">93.3</div>
<div class="t" style="right:55.42px;transform-origin:100% 0;top:322.35px;color:#a29f20">79<span class="dg"></span></div>
<div class="t" style="right:9.12px;transform-origin:100% 0;top:322.35px;color:#a29f20">(90<span class="dg"></span>)</div>
<div class="bg" style="top:333.53px;height:11.18px;background:#e2e2e2"></div>
<div class="bg" style="left:504px;width:54px;top:333.53px;height:11.18px;background:#d2d2d2"></div>
<div class="sep" style="top:343.70px"></div>
<div class="fl fc" style="left:313px;top:333.53px;height:11.18px">C</div>
<div class="t" style="left:325.80px;transform-origin:0 0;top:333.53px;color:#8c14dc">CIII-TV*</div>
<div class="t" style="right:385.92px;transform-origin:100% 0;top:333.53px;color:#8c14dc">2</div>
<div class="t" style="right:305.22px;transform-origin:100% 0;top:333.53px;color:#8c14dc">GTN</div>
<div class="t" style="right:250.92px;transform-origin:100% 0;top:333.53px;color:#8c14dc">-15.7</div>
<div class="t" style="right:190.72px;transform-origin:100% 0;top:333.53px;color:#8c14dc">-94.6</div>
<div class="t" style="left:639.21px;width:0;text-align:center;display:flex;justify-content:center;transform-origin:0 0;top:333.53px;color:#8c14dc">Tropo</div>
<div class="t" style="right:96.32px;transform-origin:100% 0;top:333.53px;color:#8c14dc">116.5</div>
<div class="t" style="right:55.42px;transform-origin:100% 0;top:333.53px;color:#d07a1a">46<span class="dg"></span></div>
<div class="t" style="right:9.12px;transform-origin:100% 0;top:333.53px;color:#d07a1a">(57<span class="dg"></span>)</div>
<div class="bg" style="top:344.70px;height:11.18px;background:#e2e2e2"></div>
<div class="bg" style="left:504px;width:54px;top:344.70px;height:11.18px;background:#d2d2d2"></div>
<div class="sep" style="top:354.88px"></div>
<div class="fl fa" style="left:306px;top:344.70px;height:11.18px">a</div>
<div class="t" style="left:325.80px;transform-origin:0 0;top:344.70px;color:#145adc">WBGT-CD</div>
<div class="t" style="right:385.92px;transform-origin:100% 0;top:344.70px;color:#145adc">46</div>
<div class="t" style="right:250.92px;transform-origin:100% 0;top:344.70px;color:#145adc">-16.8</div>
<div class="t" style="right:190.72px;transform-origin:100% 0;top:344.70px;color:#145adc">-107.6</div>
<div class="t" style="left:639.21px;width:0;text-align:center;display:flex;justify-content:center;transform-origin:0 0;top:344.70px;color:#145adc">2Edge</div>
<div class="t" style="right:96.32px;transform-origin:100% 0;top:344.70px;color:#145adc">80.6</div>
<div class="t" style="right:55.42px;transform-origin:100% 0;top:344.70px;color:#298a2c">129<span class="dg"></span></div>
<div class="t" style="right:9.12px;transform-origin:100% 0;top:344.70px;color:#298a2c">(139<span class="dg"></span>)</div>
<div class="bg" style="top:355.88px;height:11.17px;background:#e2e2e2"></div>
<div class="bg" style="left:504px;width:54px;top:355.88px;height:11.17px;background:#d2d2d2"></div>
<div class="sep" style="top:366.05px"></div>
<div class="fl fc" style="left:313px;top:355.88px;height:11.18px">C</div>
<div class="fl fa" style="left:306px;top:355.88px;height:11.18px">a</div>
<div class="t" style="left:325.80px;transform-origin:0 0;top:355.88px;color:#145adc">CKCO-DT</div>
<div class="t" style="right:385.92px;transform-origin:100% 0;top:355.88px;color:#145adc">13</div>
<div class="t" style="right:339.42px;transform-origin:100% 0;top:355.88px;color:#145adc">(13.1)</div>
<div class="t" style="right:305.22px;transform-origin:100% 0;top:355.88px;color:#145adc">CTV</div>
<div class="t" style="right:250.92px;transform-origin:100% 0;top:355.88px;color:#145adc">-17.5</div>
<div class="t" style="right:190.72px;transform-origin:100% 0;top:355.88px;color:#145adc">-108.3</div>
<div class="t" style="left:639.21px;width:0;text-align:center;display:flex;justify-content:center;transform-origin:0 0;top:355.88px;color:#145adc">Tropo</div>
<div class="t" style="right:96.32px;transform-origin:100% 0;top:355.88px;color:#145adc">92.6</div>
<div class="t" style="right:55.42px;transform-origin:100% 0;top:355.88px;color:#2a2aa0">249<span class="dg"></span></div>
<div class="t" style="right:9.12px;transform-origin:100% 0;top:355.88px;color:#2a2aa0">(260<span class="dg"></span>)</div>
<div class="bg" style="top:367.05px;height:11.18px;background:#e2e2e2"></div>
<div class="bg" style="left:504px;width:54px;top:367.05px;height:11.18px;background:#d2d2d2"></div>
<div class="sep" style="top:377.23px"></div>
<div class="fl fa" style="left:306px;top:367.05px;height:11.18px">a</div>
<div class="t" style="left:325.80px;transform-origin:0 0;top:367.05px;color:#145adc">WROC-TV</div>
<div class="t" style="right:385.92px;transform-origin:100% 0;top:367.05px;color:#145adc">45</div>
<div class="t" style="right:339.42px;transform-origin:100% 0;top:367.05px;color:#145adc">(8.1)</div>
<div class="t" style="right:305.22px;transform-origin:100% 0;top:367.05px;color:#145adc">CBS</div>
<div class="t" style="right:250.92px;transform-origin:100% 0;top:367.05px;color:#145adc">-17.7</div>
<div class="t" style="right:190.72px;transform-origin:100% 0;top:367.05px;color:#145adc">-108.5</div>
<div class="t" style="left:639.21px;width:0;text-align:center;display:flex;justify-content:center;transform-origin:0 0;top:367.05px;color:#145adc">Tropo</div>
<div class="t" style="right:96.32px;transform-origin:100% 0;top:367.05px;color:#145adc">85.6</div>
<div class="t" style="right:55.42px;transform-origin:100% 0;top:367.05px;color:#2a8a2a">128<span class="dg"></span></div>
<div class="t" style="right:9.12px;transform-origin:100% 0;top:367.05px;color:#2a8a2a">(139<span class="dg"></span>)</div>
<div class="bg" style="top:378.23px;height:11.18px;background:#e2e2e2"></div>
<div class="bg" style="left:504px;width:54px;top:378.23px;height:11.18px;background:#d2d2d2"></div>
<div class="sep" style="top:388.40px"></div>
<div class="fl fc" style="left:313px;top:378.23px;height:11.18px">C</div>
<div class="t" style="left:325.80px;transform-origin:0 0;top:378.23px;color:#8c14dc">CKCO-TV*</div>
<div class="t" style="right:385.92px;transform-origin:100% 0;top:378.23px;color:#8c14dc">2</div>
<div class="t" style="right:305.22px;transform-origin:100% 0;top:378.23px;color:#8c14dc">CTV</div>
<div class="t" style="right:250.92px;transform-origin:100% 0;top:378.23px;color:#8c14dc">-17.7</div>
<div class="t" style="right:190.72px;transform-origin:100% 0;top:378.23px;color:#8c14dc">-96.6</div>
<div class="t" style="left:639.21px;width:0;text-align:center;display:flex;justify-content:center;transform-origin:0 0;top:378.23px;color:#8c14dc">Tropo</div>
<div class="t" style="right:96.32px;transform-origin:100% 0;top:378.23px;color:#8c14dc">130.9</div>
<div class="t" style="right:55.42px;transform-origin:100% 0;top:378.23px;color:#c81ab0">304<span class="dg"></span></div>
<div class="t" style="right:9.12px;transform-origin:100% 0;top:378.23px;color:#c81ab0">(315<span class="dg"></span>)</div>
<div class="bg" style="top:389.40px;height:11.18px;background:#e2e2e2"></div>
<div class="bg" style="left:504px;width:54px;top:389.40px;height:11.18px;background:#d2d2d2"></div>
<div class="sep" style="top:399.58px"></div>
<div class="fl fc" style="left:313px;top:389.40px;height:11.18px">C</div>
<div class="t" style="left:325.80px;transform-origin:0 0;top:389.40px;color:#145adc">WUHF-DT</div>
<div class="t" style="right:385.92px;transform-origin:100% 0;top:389.40px;color:#145adc">28</div>
<div class="t" style="right:339.42px;transform-origin:100% 0;top:389.40px;color:#145adc">(31.1)</div>
<div class="t" style="right:305.22px;transform-origin:100% 0;top:389.40px;color:#145adc">Fox</div>
<div class="t" style="right:250.92px;transform-origin:100% 0;top:389.40px;color:#145adc">-18.1</div>
<div class="t" style="right:190.72px;transform-origin:100% 0;top:389.40px;color:#145adc">-109.0</div>
<div class="t" style="left:639.21px;width:0;text-align:center;display:flex;justify-content:center;transform-origin:0 0;top:389.40px;color:#145adc">2Edge</div>
<div class="t" style="right:96.32px;transform-origin:100% 0;top:389.40px;color:#145adc">85.6</div>
<div class="t" style="right:55.42px;transform-origin:100% 0;top:389.40px;color:#2a8a2a">128<span class="dg"></span></div>
<div class="t" style="right:9.12px;transform-origin:100% 0;top:389.40px;color:#2a8a2a">(139<span class="dg"></span>)</div>
<div class="bg" style="top:400.58px;height:11.18px;background:#e2e2e2"></div>
<div class="bg" style="left:504px;width:54px;top:400.58px;height:11.18px;background:#d2d2d2"></div>
<div class="sep" style="top:410.75px"></div>
<div class="fl fc" style="left:313px;top:400.58px;height:11.18px">C</div>
<div class="t" style="left:325.80px;transform-origin:0 0;top:400.58px;color:#145adc">WXXI-TV</div>
<div class="t" style="right:385.92px;transform-origin:100% 0;top:400.58px;color:#145adc">16</div>
<div class="t" style="right:305.22px;transform-origin:100% 0;top:400.58px;color:#145adc">PBS</div>
<div class="t" style="right:250.92px;transform-origin:100% 0;top:400.58px;color:#145adc">-21.7</div>
<div class="t" style="right:190.72px;transform-origin:100% 0;top:400.58px;color:#145adc">-112.5</div>
<div class="t" style="left:639.21px;width:0;text-align:center;display:flex;justify-content:center;transform-origin:0 0;top:400.58px;color:#145adc">Tropo</div>
<div class="t" style="right:96.32px;transform-origin:100% 0;top:400.58px;color:#145adc">85.6</div>
<div class="t" style="right:55.42px;transform-origin:100% 0;top:400.58px;color:#2a8a2a">128<span class="dg"></span></div>
<div class="t" style="right:9.12px;transform-origin:100% 0;top:400.58px;color:#2a8a2a">(139<span class="dg"></span>)</div>
<div class="bg" style="top:411.75px;height:11.17px;background:#e2e2e2"></div>
<div class="bg" style="left:504px;width:54px;top:411.75px;height:11.17px;background:#d2d2d2"></div>
<div class="sep" style="top:421.93px"></div>
<div class="t" style="left:325.80px;transform-origin:0 0;top:411.75px;color:#145adc">WBXZ-LP</div>
<div class="t" style="right:385.92px;transform-origin:100% 0;top:411.75px;color:#145adc">17</div>
<div class="t" style="right:339.42px;transform-origin:100% 0;top:411.75px;color:#145adc">(17.1)</div>
<div class="t" style="right:250.92px;transform-origin:100% 0;top:411.75px;color:#145adc">-21.9</div>
<div class="t" style="right:190.72px;transform-origin:100% 0;top:411.75px;color:#145adc">-112.7</div>
<div class="t" style="left:639.21px;width:0;text-align:center;display:flex;justify-content:center;transform-origin:0 0;top:411.75px;color:#145adc">2Edge</div>
<div class="t" style="right:96.32px;transform-origin:100% 0;top:411.75px;color:#145adc">70.8</div>
<div class="t" style="right:55.42px;transform-origin:100% 0;top:411.75px;color:#1f8f9d">178<span class="dg"></span></div>
<div class="t" style="right:9.12px;transform-origin:100% 0;top:411.75px;color:#1f8f9d">(189<span class="dg"></span>)</div>
<div class="bg" style="top:422.93px;height:11.18px;background:#e2e2e2"></div>
<div class="bg" style="left:504px;width:54px;top:422.93px;height:11.18px;background:#d2d2d2"></div>
<div class="sep" style="top:433.10px"></div>
<div class="t" style="left:325.80px;transform-origin:0 0;top:422.93px;color:#145adc">WDTB-LP</div>
<div class="t" style="right:385.92px;transform-origin:100% 0;top:422.93px;color:#145adc">29</div>
<div class="t" style="right:339.42px;transform-origin:100% 0;top:422.93px;color:#145adc">(28.1)</div>
<div class="t" style="right:250.92px;transform-origin:100% 0;top:422.93px;color:#145adc">-22.7</div>
<div class="t" style="right:190.72px;transform-origin:100% 0;top:422.93px;color:#145adc">-113.6</div>
<div class="t" style="left:639.21px;width:0;text-align:center;display:flex;justify-content:center;transform-origin:0 0;top:422.93px;color:#145adc">2Edge</div>
<div class="t" style="right:96.32px;transform-origin:100% 0;top:422.93px;color:#145adc">70.8</div>
<div class="t" style="right:55.42px;transform-origin:100% 0;top:422.93px;color:#1f8f9d">178<span class="dg"></span></div>
<div class="t" style="right:9.12px;transform-origin:100% 0;top:422.93px;color:#1f8f9d">(189<span class="dg"></span>)</div>
<div class="bg" style="top:434.10px;height:11.18px;background:#e2e2e2"></div>
<div class="bg" style="left:504px;width:54px;top:434.10px;height:11.18px;background:#d2d2d2"></div>
<div class="sep" style="top:444.28px"></div>
<div class="fl fc" style="left:313px;top:434.10px;height:11.18px">C</div>
<div class="fl fa" style="left:306px;top:434.10px;height:11.18px">a</div>
<div class="t" style="left:325.80px;transform-origin:0 0;top:434.10px;color:#8c14dc">CKWS-TV</div>
<div class="t" style="right:385.92px;transform-origin:100% 0;top:434.10px;color:#8c14dc">11</div>
<div class="t" style="right:305.22px;transform-origin:100% 0;top:434.10px;color:#8c14dc">CBC</div>
<div class="t" style="right:250.92px;transform-origin:100% 0;top:434.10px;color:#8c14dc">-22.8</div>
<div class="t" style="right:190.72px;transform-origin:100% 0;top:434.10px;color:#8c14dc">-101.7</div>
<div class="t" style="left:639.21px;width:0;text-align:center;display:flex;justify-content:center;transform-origin:0 0;top:434.10px;color:#8c14dc">Tropo</div>
<div class="t" style="right:96.32px;transform-origin:100% 0;top:434.10px;color:#8c14dc">125.4</div>
<div class="t" style="right:55.42px;transform-origin:100% 0;top:434.10px;color:#9d9f20">81<span class="dg"></span></div>
<div class="t" style="right:9.12px;transform-origin:100% 0;top:434.10px;color:#9d9f20">(92<span class="dg"></span>)</div>
<div class="bg" style="top:445.28px;height:11.18px;background:#e2e2e2"></div>
<div class="bg" style="left:504px;width:54px;top:445.28px;height:11.18px;background:#d2d2d2"></div>
<div class="sep" style="top:455.45px"></div>
<div class="fl fc" style="left:313px;top:445.28px;height:11.18px">C</div>
<div class="t" style="left:325.80px;transform-origin:0 0;top:445.28px;color:#8c14dc">CIII-TV*</div>
<div class="t" style="right:385.92px;transform-origin:100% 0;top:445.28px;color:#8c14dc">4</div>
<div class="t" style="right:305.22px;transform-origin:100% 0;top:445.28px;color:#8c14dc">GTN</div>
<div class="t" style="right:250.92px;transform-origin:100% 0;top:445.28px;color:#8c14dc">-23.9</div>
<div class="t" style="right:190.72px;transform-origin:100% 0;top:445.28px;color:#8c14dc">-102.8</div>
<div class="t" style="left:639.21px;width:0;text-align:center;display:flex;justify-content:center;transform-origin:0 0;top:445.28px;color:#8c14dc">Tropo</div>
<div class="t" style="right:96.32px;transform-origin:100% 0;top:445.28px;color:#8c14dc">109.9</div>
<div class="t" style="right:55.42px;transform-origin:100% 0;top:445.28px;color:#a01ac0">291<span class="dg"></span></div>
<div class="t" style="right:9.12px;transform-origin:100% 0;top:445.28px;color:#a01ac0">(301<span class="dg"></span>)</div>
<div class="bg" style="top:456.45px;height:11.18px;background:#e2e2e2"></div>
<div class="bg" style="left:504px;width:54px;top:456.45px;height:11.18px;background:#d2d2d2"></div>
<div class="sep" style="top:466.63px"></div>
<div class="fl fc" style="left:313px;top:456.45px;height:11.18px">C</div>
<div class="fl fa" style="left:306px;top:456.45px;height:11.18px">a</div>
<div class="t" style="left:325.80px;transform-origin:0 0;top:456.45px;color:#145adc">WNYS-DT</div>
<div class="t" style="right:385.92px;transform-origin:100% 0;top:456.45px;color:#145adc">44</div>
<div class="t" style="right:339.42px;transform-origin:100% 0;top:456.45px;color:#145adc">(43.1)</div>
<div class="t" style="right:305.22px;transform-origin:100% 0;top:456.45px;color:#145adc">MyN</div>
<div class="t" style="right:250.92px;transform-origin:100% 0;top:456.45px;color:#145adc">-24.0</div>
<div class="t" style="right:190.72px;transform-origin:100% 0;top:456.45px;color:#145adc">-114.8</div>
<div class="t" style="left:639.21px;width:0;text-align:center;display:flex;justify-content:center;transform-origin:0 0;top:456.45px;color:#145adc">Tropo</div>
<div class="t" style="right:96.32px;transform-origin:100% 0;top:456.45px;color:#145adc">154.1</div>
<div class="t" style="right:55.42px;transform-origin:100% 0;top:456.45px;color:#2a8a2a">116<span class="dg"></span></div>
<div class="t" style="right:9.12px;transform-origin:100% 0;top:456.45px;color:#2a8a2a">(127<span class="dg"></span>)</div>
<div class="bg" style="top:467.63px;height:11.17px;background:#e2e2e2"></div>
<div class="bg" style="left:504px;width:54px;top:467.63px;height:11.17px;background:#d2d2d2"></div>
<div class="sep" style="top:477.80px"></div>
<div class="fl fc" style="left:313px;top:467.63px;height:11.18px">C</div>
<div class="fl fa" style="left:306px;top:467.63px;height:11.18px">a</div>
<div class="t" style="left:325.80px;transform-origin:0 0;top:467.63px;color:#145adc">CIII-DT*</div>
<div class="t" style="right:385.92px;transform-origin:100% 0;top:467.63px;color:#145adc">7</div>
<div class="t" style="right:339.42px;transform-origin:100% 0;top:467.63px;color:#145adc">(7.1)</div>
<div class="t" style="right:250.92px;transform-origin:100% 0;top:467.63px;color:#145adc">-24.3</div>
<div class="t" style="right:190.72px;transform-origin:100% 0;top:467.63px;color:#145adc">-115.2</div>
<div class="t" style="left:639.21px;width:0;text-align:center;display:flex;justify-content:center;transform-origin:0 0;top:467.63px;color:#145adc">Tropo</div>
<div class="t" style="right:96.32px;transform-origin:100% 0;top:467.63px;color:#145adc">85.0</div>
<div class="t" style="right:55.42px;transform-origin:100% 0;top:467.63px;color:#c81a60">330<span class="dg"></span></div>
<div class="t" style="right:9.12px;transform-origin:100% 0;top:467.63px;color:#c81a60">(341<span class="dg"></span>)</div>
<div class="bg" style="top:478.80px;height:11.18px;background:#e2e2e2"></div>
<div class="bg" style="left:504px;width:54px;top:478.80px;height:11.18px;background:#d2d2d2"></div>
<div class="sep" style="top:488.98px"></div>
<div class="fl fc" style="left:313px;top:478.80px;height:11.18px">C</div>
<div class="fl fa" style="left:306px;top:478.80px;height:11.18px">a</div>
<div class="t" style="left:325.80px;transform-origin:0 0;top:478.80px;color:#145adc">WSYT-DT</div>
<div class="t" style="right:385.92px;transform-origin:100% 0;top:478.80px;color:#145adc">19</div>
<div class="t" style="right:339.42px;transform-origin:100% 0;top:478.80px;color:#145adc">(68.1)</div>
<div class="t" style="right:305.22px;transform-origin:100% 0;top:478.80px;color:#145adc">Fox</div>
<div class="t" style="right:250.92px;transform-origin:100% 0;top:478.80px;color:#145adc">-24.5</div>
<div class="t" style="right:190.72px;transform-origin:100% 0;top:478.80px;color:#145adc">-115.4</div>
<div class="t" style="left:639.21px;width:0;text-align:center;display:flex;justify-content:center;transform-origin:0 0;top:478.80px;color:#145adc">Tropo</div>
<div class="t" style="right:96.32px;transform-origin:100% 0;top:478.80px;color:#145adc">154.1</div>
<div class="t" style="right:55.42px;transform-origin:100% 0;top:478.80px;color:#2a8a2a">116<span class="dg"></span></div>
<div class="t" style="right:9.12px;transform-origin:100% 0;top:478.80px;color:#2a8a2a">(127<span class="dg"></span>)</div>
<div class="bg" style="top:489.98px;height:11.18px;background:#e2e2e2"></div>
<div class="bg" style="left:504px;width:54px;top:489.98px;height:11.18px;background:#d2d2d2"></div>
<div class="sep" style="top:500.15px"></div>
<div class="fl fa" style="left:306px;top:489.98px;height:11.18px">a</div>
<div class="t" style="left:325.80px;transform-origin:0 0;top:489.98px;color:#8c14dc">CKNX-TV</div>
<div class="t" style="right:385.92px;transform-origin:100% 0;top:489.98px;color:#8c14dc">8</div>
<div class="t" style="right:305.22px;transform-origin:100% 0;top:489.98px;color:#8c14dc">A</div>
<div class="t" style="right:250.92px;transform-origin:100% 0;top:489.98px;color:#8c14dc">-25.1</div>
<div class="t" style="right:190.72px;transform-origin:100% 0;top:489.98px;color:#8c14dc">-103.9</div>
<div class="t" style="left:639.21px;width:0;text-align:center;display:flex;justify-content:center;transform-origin:0 0;top:489.98px;color:#8c14dc">Tropo</div>
<div class="t" style="right:96.32px;transform-origin:100% 0;top:489.98px;color:#8c14dc">114.7</div>
<div class="t" style="right:55.42px;transform-origin:100% 0;top:489.98px;color:#7a1ac8">277<span class="dg"></span></div>
<div class="t" style="right:9.12px;transform-origin:100% 0;top:489.98px;color:#7a1ac8">(288<span class="dg"></span>)</div>
<div class="bg" style="top:501.15px;height:11.18px;background:#e2e2e2"></div>
<div class="bg" style="left:504px;width:54px;top:501.15px;height:11.18px;background:#d2d2d2"></div>
<div class="sep" style="top:511.33px"></div>
<div class="fl fc" style="left:313px;top:501.15px;height:11.18px">C</div>
<div class="fl fa" style="left:306px;top:501.15px;height:11.18px">a</div>
<div class="t" style="left:325.80px;transform-origin:0 0;top:501.15px;color:#145adc">WICU-DT</div>
<div class="t" style="right:385.92px;transform-origin:100% 0;top:501.15px;color:#145adc">12</div>
<div class="t" style="right:339.42px;transform-origin:100% 0;top:501.15px;color:#145adc">(12.1)</div>
<div class="t" style="right:305.22px;transform-origin:100% 0;top:501.15px;color:#145adc">NBC</div>
<div class="t" style="right:250.92px;transform-origin:100% 0;top:501.15px;color:#145adc">-25.3</div>
<div class="t" style="right:190.72px;transform-origin:100% 0;top:501.15px;color:#145adc">-116.1</div>
<div class="t" style="left:639.21px;width:0;text-align:center;display:flex;justify-content:center;transform-origin:0 0;top:501.15px;color:#145adc">Tropo</div>
<div class="t" style="right:96.32px;transform-origin:100% 0;top:501.15px;color:#145adc">138.5</div>
<div class="t" style="right:55.42px;transform-origin:100% 0;top:501.15px;color:#2a6ab0">204<span class="dg"></span></div>
<div class="t" style="right:9.12px;transform-origin:100% 0;top:501.15px;color:#2a6ab0">(215<span class="dg"></span>)</div>
<div class="bg" style="top:512.33px;height:11.17px;background:#e2e2e2"></div>
<div class="bg" style="left:504px;width:54px;top:512.33px;height:11.17px;background:#d2d2d2"></div>
<div class="sep" style="top:522.50px"></div>
<div class="fl fc" style="left:313px;top:512.33px;height:11.18px">C</div>
<div class="fl fa" style="left:306px;top:512.33px;height:11.18px">a</div>
<div class="t" style="left:325.80px;transform-origin:0 0;top:512.33px;color:#8c14dc">CKNY-TV*</div>
<div class="t" style="right:385.92px;transform-origin:100% 0;top:512.33px;color:#8c14dc">11</div>
<div class="t" style="right:250.92px;transform-origin:100% 0;top:512.33px;color:#8c14dc">-25.4</div>
<div class="t" style="right:190.72px;transform-origin:100% 0;top:512.33px;color:#8c14dc">-104.2</div>
<div class="t" style="left:639.21px;width:0;text-align:center;display:flex;justify-content:center;transform-origin:0 0;top:512.33px;color:#8c14dc">Tropo</div>
<div class="t" style="right:96.32px;transform-origin:100% 0;top:512.33px;color:#8c14dc">98.3</div>
<div class="t" style="right:55.42px;transform-origin:100% 0;top:512.33px;color:#c82022">359<span class="dg"></span></div>
<div class="t" style="right:9.12px;transform-origin:100% 0;top:512.33px;color:#c82022">(10<span class="dg"></span>)</div>
<div class="bg" style="top:523.50px;height:11.18px;background:#e2e2e2"></div>
<div class="bg" style="left:504px;width:54px;top:523.50px;height:11.18px;background:#d2d2d2"></div>
<div class="sep" style="top:533.68px"></div>
<div class="fl fc" style="left:313px;top:523.50px;height:11.18px">C</div>
<div class="fl fa" style="left:306px;top:523.50px;height:11.18px">a</div>
<div class="t" style="left:325.80px;transform-origin:0 0;top:523.50px;color:#145adc">WTVH-DT</div>
<div class="t" style="right:385.92px;transform-origin:100% 0;top:523.50px;color:#145adc">47</div>
<div class="t" style="right:339.42px;transform-origin:100% 0;top:523.50px;color:#145adc">(5.1)</div>
<div class="t" style="right:305.22px;transform-origin:100% 0;top:523.50px;color:#145adc">CBS</div>
<div class="t" style="right:250.92px;transform-origin:100% 0;top:523.50px;color:#145adc">-25.7</div>
<div class="t" style="right:190.72px;transform-origin:100% 0;top:523.50px;color:#145adc">-116.5</div>
<div class="t" style="left:639.21px;width:0;text-align:center;display:flex;justify-content:center;transform-origin:0 0;top:523.50px;color:#145adc">Tropo</div>
<div class="t" style="right:96.32px;transform-origin:100% 0;top:523.50px;color:#145adc">155.9</div>
<div class="t" style="right:55.42px;transform-origin:100% 0;top:523.50px;color:#2a8a2a">114<span class="dg"></span></div>
<div class="t" style="right:9.12px;transform-origin:100% 0;top:523.50px;color:#2a8a2a">(125<span class="dg"></span>)</div>
<div class="bg" style="top:534.68px;height:11.17px;background:#e2e2e2"></div>
<div class="bg" style="left:504px;width:54px;top:534.68px;height:11.17px;background:#d2d2d2"></div>
<div class="sep" style="top:544.85px"></div>
<div class="fl fc" style="left:313px;top:534.68px;height:11.18px">C</div>
<div class="fl fa" style="left:306px;top:534.68px;height:11.18px">a</div>
<div class="t" style="left:325.80px;transform-origin:0 0;top:534.68px;color:#145adc">WSTM-DT</div>
<div class="t" style="right:385.92px;transform-origin:100% 0;top:534.68px;color:#145adc">24</div>
<div class="t" style="right:339.42px;transform-origin:100% 0;top:534.68px;color:#145adc">(3.1)</div>
<div class="t" style="right:305.22px;transform-origin:100% 0;top:534.68px;color:#145adc">NBC</div>
<div class="t" style="right:250.92px;transform-origin:100% 0;top:534.68px;color:#145adc">-27.1</div>
<div class="t" style="right:190.72px;transform-origin:100% 0;top:534.68px;color:#145adc">-117.9</div>
<div class="t" style="left:639.21px;width:0;text-align:center;display:flex;justify-content:center;transform-origin:0 0;top:534.68px;color:#145adc">Tropo</div>
<div class="t" style="right:96.32px;transform-origin:100% 0;top:534.68px;color:#145adc">155.8</div>
<div class="t" style="right:55.42px;transform-origin:100% 0;top:534.68px;color:#2a8a2a">114<span class="dg"></span></div>
<div class="t" style="right:9.12px;transform-origin:100% 0;top:534.68px;color:#2a8a2a">(125<span class="dg"></span>)</div>
<div class="bg" style="top:545.85px;height:11.17px;background:#e2e2e2"></div>
<div class="bg" style="left:504px;width:54px;top:545.85px;height:11.17px;background:#d2d2d2"></div>
<div class="sep" style="top:556.02px"></div>
<div class="fl fc" style="left:313px;top:545.85px;height:11.18px">C</div>
<div class="t" style="left:325.80px;transform-origin:0 0;top:545.85px;color:#145adc">WGCE-CA</div>
<div class="t" style="right:385.92px;transform-origin:100% 0;top:545.85px;color:#145adc">25</div>
<div class="t" style="right:339.42px;transform-origin:100% 0;top:545.85px;color:#145adc">(6.1)</div>
<div class="t" style="right:250.92px;transform-origin:100% 0;top:545.85px;color:#145adc">-29.6</div>
<div class="t" style="right:190.72px;transform-origin:100% 0;top:545.85px;color:#145adc">-120.5</div>
<div class="t" style="left:639.21px;width:0;text-align:center;display:flex;justify-content:center;transform-origin:0 0;top:545.85px;color:#145adc">2Edge</div>
<div class="t" style="right:96.32px;transform-origin:100% 0;top:545.85px;color:#145adc">78.7</div>
<div class="t" style="right:55.42px;transform-origin:100% 0;top:545.85px;color:#298a2c">129<span class="dg"></span></div>
<div class="t" style="right:9.12px;transform-origin:100% 0;top:545.85px;color:#298a2c">(139<span class="dg"></span>)</div>
<div class="bg" style="top:557.02px;height:11.18px;background:#e2e2e2"></div>
<div class="bg" style="left:504px;width:54px;top:557.02px;height:11.18px;background:#d2d2d2"></div>
<div class="sep" style="top:567.20px"></div>
<div class="fl fc" style="left:313px;top:557.02px;height:11.18px">C</div>
<div class="t" style="left:325.80px;transform-origin:0 0;top:557.02px;color:#8c14dc">WDTB-LP</div>
<div class="t" style="right:385.92px;transform-origin:100% 0;top:557.02px;color:#8c14dc">28</div>
<div class="t" style="right:250.92px;transform-origin:100% 0;top:557.02px;color:#8c14dc">-29.8</div>
<div class="t" style="right:190.72px;transform-origin:100% 0;top:557.02px;color:#8c14dc">-108.7</div>
<div class="t" style="left:639.21px;width:0;text-align:center;display:flex;justify-content:center;transform-origin:0 0;top:557.02px;color:#8c14dc">2Edge</div>
<div class="t" style="right:96.32px;transform-origin:100% 0;top:557.02px;color:#8c14dc">70.8</div>
<div class="t" style="right:55.42px;transform-origin:100% 0;top:557.02px;color:#1f8f9d">178<span class="dg"></span></div>
<div class="t" style="right:9.12px;transform-origin:100% 0;top:557.02px;color:#1f8f9d">(189<span class="dg"></span>)</div>
<div class="bg" style="top:568.20px;height:11.17px;background:#e2e2e2"></div>
<div class="bg" style="left:504px;width:54px;top:568.20px;height:11.17px;background:#d2d2d2"></div>
<div class="sep" style="top:578.38px"></div>
<div class="fl fc" style="left:313px;top:568.20px;height:11.18px">C</div>
<div class="t" style="left:325.80px;transform-origin:0 0;top:568.20px;color:#145adc">CICO-DT*</div>
<div class="t" style="right:385.92px;transform-origin:100% 0;top:568.20px;color:#145adc">28</div>
<div class="t" style="right:339.42px;transform-origin:100% 0;top:568.20px;color:#145adc">(28.1)</div>
<div class="t" style="right:305.22px;transform-origin:100% 0;top:568.20px;color:#145adc">TVO</div>
<div class="t" style="right:250.92px;transform-origin:100% 0;top:568.20px;color:#145adc">-30.1</div>
<div class="t" style="right:190.72px;transform-origin:100% 0;top:568.20px;color:#145adc">-120.9</div>
<div class="t" style="left:639.21px;width:0;text-align:center;display:flex;justify-content:center;transform-origin:0 0;top:568.20px;color:#145adc">Tropo</div>
<div class="t" style="right:96.32px;transform-origin:100% 0;top:568.20px;color:#145adc">88.5</div>
<div class="t" style="right:55.42px;transform-origin:100% 0;top:568.20px;color:#2a2aa0">240<span class="dg"></span></div>
<div class="t" style="right:9.12px;transform-origin:100% 0;top:568.20px;color:#2a2aa0">(251<span class="dg"></span>)</div>
<div class="bg" style="top:579.38px;height:11.17px;background:#e2e2e2"></div>
<div class="bg" style="left:504px;width:54px;top:579.38px;height:11.17px;background:#d2d2d2"></div>
<div class="sep" style="top:589.55px"></div>
<div class="fl fc" style="left:313px;top:579.38px;height:11.18px">C</div>
<div class="t" style="left:325.80px;transform-origin:0 0;top:579.38px;color:#145adc">WCNY-DT</div>
<div class="t" style="right:385.92px;transform-origin:100% 0;top:579.38px;color:#145adc">25</div>
<div class="t" style="right:339.42px;transform-origin:100% 0;top:579.38px;color:#145adc">(24.1)</div>
<div class="t" style="right:305.22px;transform-origin:100% 0;top:579.38px;color:#145adc">PBS</div>
<div class="t" style="right:250.92px;transform-origin:100% 0;top:579.38px;color:#145adc">-30.5</div>
<div class="t" style="right:190.72px;transform-origin:100% 0;top:579.38px;color:#145adc">-121.4</div>
<div class="t" style="left:639.21px;width:0;text-align:center;display:flex;justify-content:center;transform-origin:0 0;top:579.38px;color:#145adc">Tropo</div>
<div class="t" style="right:96.32px;transform-origin:100% 0;top:579.38px;color:#145adc">155.8</div>
<div class="t" style="right:55.42px;transform-origin:100% 0;top:579.38px;color:#2a8a2a">114<span class="dg"></span></div>
<div class="t" style="right:9.12px;transform-origin:100% 0;top:579.38px;color:#2a8a2a">(125<span class="dg"></span>)</div>
<div class="bg" style="top:590.55px;height:11.18px;background:#e2e2e2"></div>
<div class="bg" style="left:504px;width:54px;top:590.55px;height:11.18px;background:#d2d2d2"></div>
<div class="fl fc" style="left:313px;top:590.55px;height:11.18px">C</div>
<div class="fl fa" style="left:306px;top:590.55px;height:11.18px">a</div>
<div class="t" style="left:325.80px;transform-origin:0 0;top:590.55px;color:#145adc">W42CO-D</div>
<div class="t" style="right:385.92px;transform-origin:100% 0;top:590.55px;color:#145adc">42</div>
<div class="t" style="right:250.92px;transform-origin:100% 0;top:590.55px;color:#145adc">-31.1</div>
<div class="t" style="right:190.72px;transform-origin:100% 0;top:590.55px;color:#145adc">-122.0</div>
<div class="t" style="left:639.21px;width:0;text-align:center;display:flex;justify-content:center;transform-origin:0 0;top:590.55px;color:#145adc">Tropo</div>
<div class="t" style="right:96.32px;transform-origin:100% 0;top:590.55px;color:#145adc">85.6</div>
<div class="t" style="right:55.42px;transform-origin:100% 0;top:590.55px;color:#2a8a2a">128<span class="dg"></span></div>
<div class="t" style="right:9.12px;transform-origin:100% 0;top:590.55px;color:#2a8a2a">(139<span class="dg"></span>)</div>
<svg style="position:absolute;left:0;top:600px" width="800" height="168" viewBox="0 600 800 168">
<rect x="39.3" y="637" width="9.8" height="123" fill="#e6e6e6"/>
<rect x="70" y="637" width="30.6" height="123" fill="#e6e6e6"/>
<line x1="9" y1="644.98" x2="172" y2="644.98" stroke="#777" stroke-width="1" stroke-dasharray="1.1 1.3"/>
<line x1="216" y1="644.98" x2="792" y2="644.98" stroke="#777" stroke-width="1" stroke-dasharray="1.1 1.3"/>
<line x1="9" y1="657.75" x2="172" y2="657.75" stroke="#777" stroke-width="1" stroke-dasharray="1.1 1.3"/>
<line x1="216" y1="657.75" x2="792" y2="657.75" stroke="#777" stroke-width="1" stroke-dasharray="1.1 1.3"/>
<line x1="9" y1="670.53" x2="172" y2="670.53" stroke="#777" stroke-width="1" stroke-dasharray="1.1 1.3"/>
<line x1="216" y1="670.53" x2="792" y2="670.53" stroke="#777" stroke-width="1" stroke-dasharray="1.1 1.3"/>
<line x1="9" y1="683.30" x2="172" y2="683.30" stroke="#777" stroke-width="1" stroke-dasharray="1.1 1.3"/>
<line x1="216" y1="683.30" x2="792" y2="683.30" stroke="#777" stroke-width="1" stroke-dasharray="1.1 1.3"/>
<line x1="9" y1="696.08" x2="172" y2="696.08" stroke="#777" stroke-width="1" stroke-dasharray="1.1 1.3"/>
<line x1="216" y1="696.08" x2="792" y2="696.08" stroke="#777" stroke-width="1" stroke-dasharray="1.1 1.3"/>
<line x1="9" y1="708.85" x2="172" y2="708.85" stroke="#777" stroke-width="1" stroke-dasharray="1.1 1.3"/>
<line x1="216" y1="708.85" x2="792" y2="708.85" stroke="#777" stroke-width="1" stroke-dasharray="1.1 1.3"/>
<line x1="9" y1="721.62" x2="172" y2="721.62" stroke="#777" stroke-width="1" stroke-dasharray="1.1 1.3"/>
<line x1="216" y1="721.62" x2="792" y2="721.62" stroke="#777" stroke-width="1" stroke-dasharray="1.1 1.3"/>
<line x1="9" y1="734.40" x2="172" y2="734.40" stroke="#777" stroke-width="1" stroke-dasharray="1.1 1.3"/>
<line x1="216" y1="734.40" x2="792" y2="734.40" stroke="#777" stroke-width="1" stroke-dasharray="1.1 1.3"/>
<line x1="9" y1="747.18" x2="172" y2="747.18" stroke="#777" stroke-width="1" stroke-dasharray="1.1 1.3"/>
<line x1="216" y1="747.18" x2="792" y2="747.18" stroke="#777" stroke-width="1" stroke-dasharray="1.1 1.3"/>
<path d="M13 632.4 H8 V760.5 H173 V632.4 H163" stroke="#000" stroke-width="2" fill="none"/>
<path d="M64.5 632.4 H110.5" stroke="#000" stroke-width="2" fill="none"/>
<path d="M484 632.4 H215 V760.5 H793 V632.4 H524" stroke="#000" stroke-width="2" fill="none"/>
<text x="39" y="635.8" text-anchor="middle" class="pt">VHF Lo</text>
<text x="137.3" y="635.8" text-anchor="middle" class="pt">VHF Hi</text>
<text x="503.2" y="635.8" text-anchor="middle" class="pt">UHF</text>
<text x="193.8" y="635.8" text-anchor="middle" class="ax">dBm</text>
<text x="201.8" y="648.8" text-anchor="end" class="ax">-10</text>
<text x="201.8" y="661.5" text-anchor="end" class="ax">-20</text>
<text x="201.8" y="674.3" text-anchor="end" class="ax">-30</text>
<text x="201.8" y="687.1" text-anchor="end" class="ax">-40</text>
<text x="201.8" y="699.9" text-anchor="end" class="ax">-50</text>
<text x="201.8" y="712.6" text-anchor="end" class="ax">-60</text>
<text x="201.8" y="725.4" text-anchor="end" class="ax">-70</text>
<text x="201.8" y="738.2" text-anchor="end" class="ax">-80</text>
<text x="201.8" y="751.0" text-anchor="end" class="ax">-90</text>
<text x="194" y="761.5" text-anchor="middle" class="ch">Channel</text>
<rect x="10.2" y="755" width="5.0" height="8" fill="#fff"/>
<text x="13.5" y="762" text-anchor="middle" class="cl">2</text>
<rect x="31.2" y="755" width="5.0" height="8" fill="#fff"/>
<text x="34.5" y="762" text-anchor="middle" class="cl">4</text>
<rect x="52.3" y="755" width="5.0" height="8" fill="#fff"/>
<text x="55.6" y="762" text-anchor="middle" class="cl">5</text>
<rect x="62.3" y="755" width="5.0" height="8" fill="#fff"/>
<text x="65.6" y="762" text-anchor="middle" class="cl">6</text>
<rect x="103.1" y="755" width="5.0" height="8" fill="#fff"/>
<text x="106.4" y="762" text-anchor="middle" class="cl">7</text>
<rect x="124.1" y="755" width="5.0" height="8" fill="#fff"/>
<text x="127.4" y="762" text-anchor="middle" class="cl">9</text>
<rect x="142.5" y="755" width="10.0" height="8" fill="#fff"/>
<text x="148.3" y="762" text-anchor="middle" class="cl">11</text>
<rect x="163.3" y="755" width="10.0" height="8" fill="#fff"/>
<text x="169.1" y="762" text-anchor="middle" class="cl">13</text>
<rect x="214.5" y="755" width="10" height="8" fill="#fff"/>
<text x="220.1" y="762" text-anchor="middle" class="cl">14</text>
<rect x="235.1" y="755" width="10" height="8" fill="#fff"/>
<text x="240.7" y="762" text-anchor="middle" class="cl">16</text>
<rect x="266.0" y="755" width="10" height="8" fill="#fff"/>
<text x="271.6" y="762" text-anchor="middle" class="cl">19</text>
<rect x="296.9" y="755" width="10" height="8" fill="#fff"/>
<text x="302.5" y="762" text-anchor="middle" class="cl">22</text>
<rect x="327.8" y="755" width="10" height="8" fill="#fff"/>
<text x="333.4" y="762" text-anchor="middle" class="cl">25</text>
<rect x="358.7" y="755" width="10" height="8" fill="#fff"/>
<text x="364.3" y="762" text-anchor="middle" class="cl">28</text>
<rect x="389.6" y="755" width="10" height="8" fill="#fff"/>
<text x="395.2" y="762" text-anchor="middle" class="cl">31</text>
<rect x="420.5" y="755" width="10" height="8" fill="#fff"/>
<text x="426.1" y="762" text-anchor="middle" class="cl">34</text>
<rect x="451.4" y="755" width="10" height="8" fill="#fff"/>
<text x="457.0" y="762" text-anchor="middle" class="cl">37</text>
<rect x="482.3" y="755" width="10" height="8" fill="#fff"/>
<text x="487.9" y="762" text-anchor="middle" class="cl">40</text>
<rect x="513.2" y="755" width="10" height="8" fill="#fff"/>
<text x="518.8" y="762" text-anchor="middle" class="cl">43</text>
<rect x="544.1" y="755" width="10" height="8" fill="#fff"/>
<text x="549.7" y="762" text-anchor="middle" class="cl">46</text>
<rect x="575.0" y="755" width="10" height="8" fill="#fff"/>
<text x="580.6" y="762" text-anchor="middle" class="cl">49</text>
<rect x="605.9" y="755" width="10" height="8" fill="#fff"/>
<text x="611.5" y="762" text-anchor="middle" class="cl">52</text>
<rect x="636.8" y="755" width="10" height="8" fill="#fff"/>
<text x="642.4" y="762" text-anchor="middle" class="cl">55</text>
<rect x="667.7" y="755" width="10" height="8" fill="#fff"/>
<text x="673.3" y="762" text-anchor="middle" class="cl">58</text>
<rect x="698.6" y="755" width="10" height="8" fill="#fff"/>
<text x="704.2" y="762" text-anchor="middle" class="cl">61</text>
<rect x="729.5" y="755" width="10" height="8" fill="#fff"/>
<text x="735.1" y="762" text-anchor="middle" class="cl">64</text>
<rect x="760.4" y="755" width="10" height="8" fill="#fff"/>
<text x="766.0" y="762" text-anchor="middle" class="cl">67</text>
<rect x="781.0" y="755" width="10" height="8" fill="#fff"/>
<text x="786.6" y="762" text-anchor="middle" class="cl">69</text>
<rect x="58.30" y="751.34" width="13" height="7" rx="3.5" fill="#f2f2a0"/>
<rect x="60.10" y="753.24" width="9.4" height="3.2" rx="0.8" fill="#6a9be6"/>
<rect x="60.20" y="717.32" width="9" height="32.22" fill="#fff" fill-opacity="0.55"/>
<text transform="translate(68.60 749.54) rotate(-90)" class="ml" fill="#6a9be6">CIII-DT</text>
<rect x="99.10" y="743.80" width="13" height="7" rx="3.5" fill="#f2f2a0"/>
<rect x="100.90" y="745.70" width="9.4" height="3.2" rx="0.8" fill="#6a9be6"/>
<rect x="101.00" y="697.00" width="9" height="45.00" fill="#fff" fill-opacity="0.55"/>
<text transform="translate(109.40 742.00) rotate(-90)" class="ml" fill="#6a9be6">WBBZ-TV</text>
<rect x="120.00" y="685.17" width="13" height="7" rx="3.5" fill="#f0f000"/>
<rect x="121.80" y="687.07" width="9.4" height="3.2" rx="0.8" fill="#0a50c8"/>
<rect x="121.90" y="639.49" width="9" height="43.88" fill="#fff" fill-opacity="0.55"/>
<text transform="translate(130.30 683.37) rotate(-90)" class="ml" fill="#0a50c8">CFTO-DT</text>
<rect x="130.45" y="735.63" width="13" height="7" rx="3.5" fill="#f2f2a0"/>
<rect x="132.25" y="737.53" width="9.4" height="3.2" rx="0.8" fill="#6a9be6"/>
<rect x="132.35" y="689.39" width="9" height="44.44" fill="#fff" fill-opacity="0.55"/>
<text transform="translate(140.75 733.83) rotate(-90)" class="ml" fill="#6a9be6">CKVR-DT</text>
<rect x="151.35" y="717.36" width="13" height="7" rx="3.5" fill="#f0f000"/>
<rect x="153.15" y="719.26" width="9.4" height="3.2" rx="0.8" fill="#7010d0"/>
<rect x="153.25" y="671.67" width="9" height="43.89" fill="#fff" fill-opacity="0.55"/>
<text transform="translate(161.65 715.56) rotate(-90)" class="ml" fill="#7010d0">CHEX-TV</text>
<rect x="214.70" y="725.75" width="9.6" height="3" rx="1" fill="#0a50c8" stroke="#003080" stroke-width="0.7"/>
<rect x="214.90" y="675.95" width="9" height="46.10" fill="#fff" fill-opacity="0.55"/>
<text transform="translate(223.30 722.05) rotate(-90)" class="ml" fill="#0a50c8">WUTV-DT</text>
<rect x="225.00" y="751.55" width="9.6" height="3" rx="1" fill="#0a50c8" stroke="#003080" stroke-width="0.7"/>
<rect x="225.20" y="700.64" width="9" height="47.21" fill="#fff" fill-opacity="0.55"/>
<text transform="translate(233.60 747.85) rotate(-90)" class="ml" fill="#0a50c8">WBNF-CD</text>
<rect x="266.20" y="684.10" width="9.6" height="3" rx="1" fill="#0a50c8" stroke="#003080" stroke-width="0.7"/>
<rect x="266.40" y="639.85" width="9" height="40.55" fill="#fff" fill-opacity="0.55"/>
<text transform="translate(274.80 680.40) rotate(-90)" class="ml" fill="#0a50c8">CICA-DT</text>
<rect x="276.50" y="688.57" width="9.6" height="3" rx="1" fill="#0a50c8" stroke="#003080" stroke-width="0.7"/>
<rect x="276.70" y="642.65" width="9" height="42.22" fill="#fff" fill-opacity="0.55"/>
<text transform="translate(285.10 684.87) rotate(-90)" class="ml" fill="#0a50c8">CBLT-DT</text>
<rect x="297.10" y="682.57" width="9.6" height="3" rx="1" fill="#7010d0" stroke="#400080" stroke-width="0.7"/>
<rect x="297.30" y="626.09" width="9" height="52.78" fill="#fff" fill-opacity="0.55"/>
<text transform="translate(305.70 678.87) rotate(-90)" class="ml" fill="#7010d0">CHEX-TV-2</text>
<rect x="307.40" y="738.39" width="9.6" height="3" rx="1" fill="#0a50c8" stroke="#003080" stroke-width="0.7"/>
<rect x="307.60" y="690.25" width="9" height="44.44" fill="#fff" fill-opacity="0.55"/>
<text transform="translate(316.00 734.69) rotate(-90)" class="ml" fill="#0a50c8">WPXJ-DT</text>
<rect x="400.10" y="708.24" width="9.6" height="3" rx="1" fill="#0a50c8" stroke="#003080" stroke-width="0.7"/>
<rect x="400.30" y="657.88" width="9" height="46.66" fill="#fff" fill-opacity="0.55"/>
<text transform="translate(408.70 704.54) rotate(-90)" class="ml" fill="#0a50c8">WNLO-DT</text>
<rect x="410.40" y="726.26" width="9.6" height="3" rx="1" fill="#0a50c8" stroke="#003080" stroke-width="0.7"/>
<rect x="410.60" y="675.35" width="9" height="47.21" fill="#fff" fill-opacity="0.55"/>
<text transform="translate(419.00 722.56) rotate(-90)" class="ml" fill="#0a50c8">WGRZ-DT</text>
<rect x="431.00" y="750.79" width="9.6" height="3" rx="1" fill="#8ab0ea" stroke="#a0b8e0" stroke-width="0.7"/>
<rect x="431.20" y="691.55" width="9" height="55.54" fill="#fff" fill-opacity="0.55"/>
<text transform="translate(439.60 747.09) rotate(-90)" class="ml" fill="#8ab0ea">CHCJ-DT(1)</text>
<rect x="441.30" y="727.92" width="9.6" height="3" rx="1" fill="#0a50c8" stroke="#003080" stroke-width="0.7"/>
<rect x="441.50" y="684.78" width="9" height="39.44" fill="#fff" fill-opacity="0.55"/>
<text transform="translate(449.90 724.22) rotate(-90)" class="ml" fill="#0a50c8">CITS-DT</text>
<rect x="461.90" y="726.00" width="9.6" height="3" rx="1" fill="#0a50c8" stroke="#003080" stroke-width="0.7"/>
<rect x="462.10" y="673.42" width="9" height="48.88" fill="#fff" fill-opacity="0.55"/>
<text transform="translate(470.50 722.30) rotate(-90)" class="ml" fill="#0a50c8">WKBW-DT</text>
<rect x="472.20" y="721.40" width="9.6" height="3" rx="1" fill="#0a50c8" stroke="#003080" stroke-width="0.7"/>
<rect x="472.40" y="675.48" width="9" height="42.22" fill="#fff" fill-opacity="0.55"/>
<text transform="translate(480.80 717.70) rotate(-90)" class="ml" fill="#0a50c8">WIVB-DT</text>
<rect x="492.80" y="685.63" width="9.6" height="3" rx="1" fill="#0a50c8" stroke="#003080" stroke-width="0.7"/>
<rect x="493.00" y="635.26" width="9" height="46.67" fill="#fff" fill-opacity="0.55"/>
<text transform="translate(501.40 681.93) rotate(-90)" class="ml" fill="#0a50c8">CIII-DT-41</text>
<rect x="513.40" y="718.08" width="9.6" height="3" rx="1" fill="#0a50c8" stroke="#003080" stroke-width="0.7"/>
<rect x="513.60" y="667.17" width="9" height="47.21" fill="#fff" fill-opacity="0.55"/>
<text transform="translate(522.00 714.38) rotate(-90)" class="ml" fill="#0a50c8">WNED-DT</text>
<rect x="523.70" y="694.70" width="9.6" height="3" rx="1" fill="#0a50c8" stroke="#003080" stroke-width="0.7"/>
<rect x="523.90" y="651.56" width="9" height="39.44" fill="#fff" fill-opacity="0.55"/>
<text transform="translate(532.30 691.00) rotate(-90)" class="ml" fill="#0a50c8">CITY-DT</text>
<rect x="554.60" y="694.58" width="9.6" height="3" rx="1" fill="#0a50c8" stroke="#003080" stroke-width="0.7"/>
<rect x="554.80" y="646.45" width="9" height="44.43" fill="#fff" fill-opacity="0.55"/>
<text transform="translate(563.20 690.88) rotate(-90)" class="ml" fill="#0a50c8">CFMT-DT</text>
<rect x="575.20" y="729.58" width="9.6" height="3" rx="1" fill="#0a50c8" stroke="#003080" stroke-width="0.7"/>
<rect x="575.40" y="678.66" width="9" height="47.22" fill="#fff" fill-opacity="0.55"/>
<text transform="translate(583.80 725.88) rotate(-90)" class="ml" fill="#0a50c8">WNYO-TV</text>
<path d="M8 632.4 V761 M173 632.4 V761 M215 632.4 V761 M793 632.4 V761" stroke="#000" stroke-width="2" fill="none"/>
</svg>
<div class="fl fc" style="left:347px;top:617.5px;height:11px;width:7px">C</div>
<div class="s" style="left:360px;top:617px;font-size:12.9px">= Co-channel warning</div>
<div class="fl fa" style="left:557.5px;top:617.5px;height:11px;width:7px">a</div>
<div class="s" style="left:571px;top:617px;font-size:12.9px">= Adjacent channel warning</div>
</body></html>
